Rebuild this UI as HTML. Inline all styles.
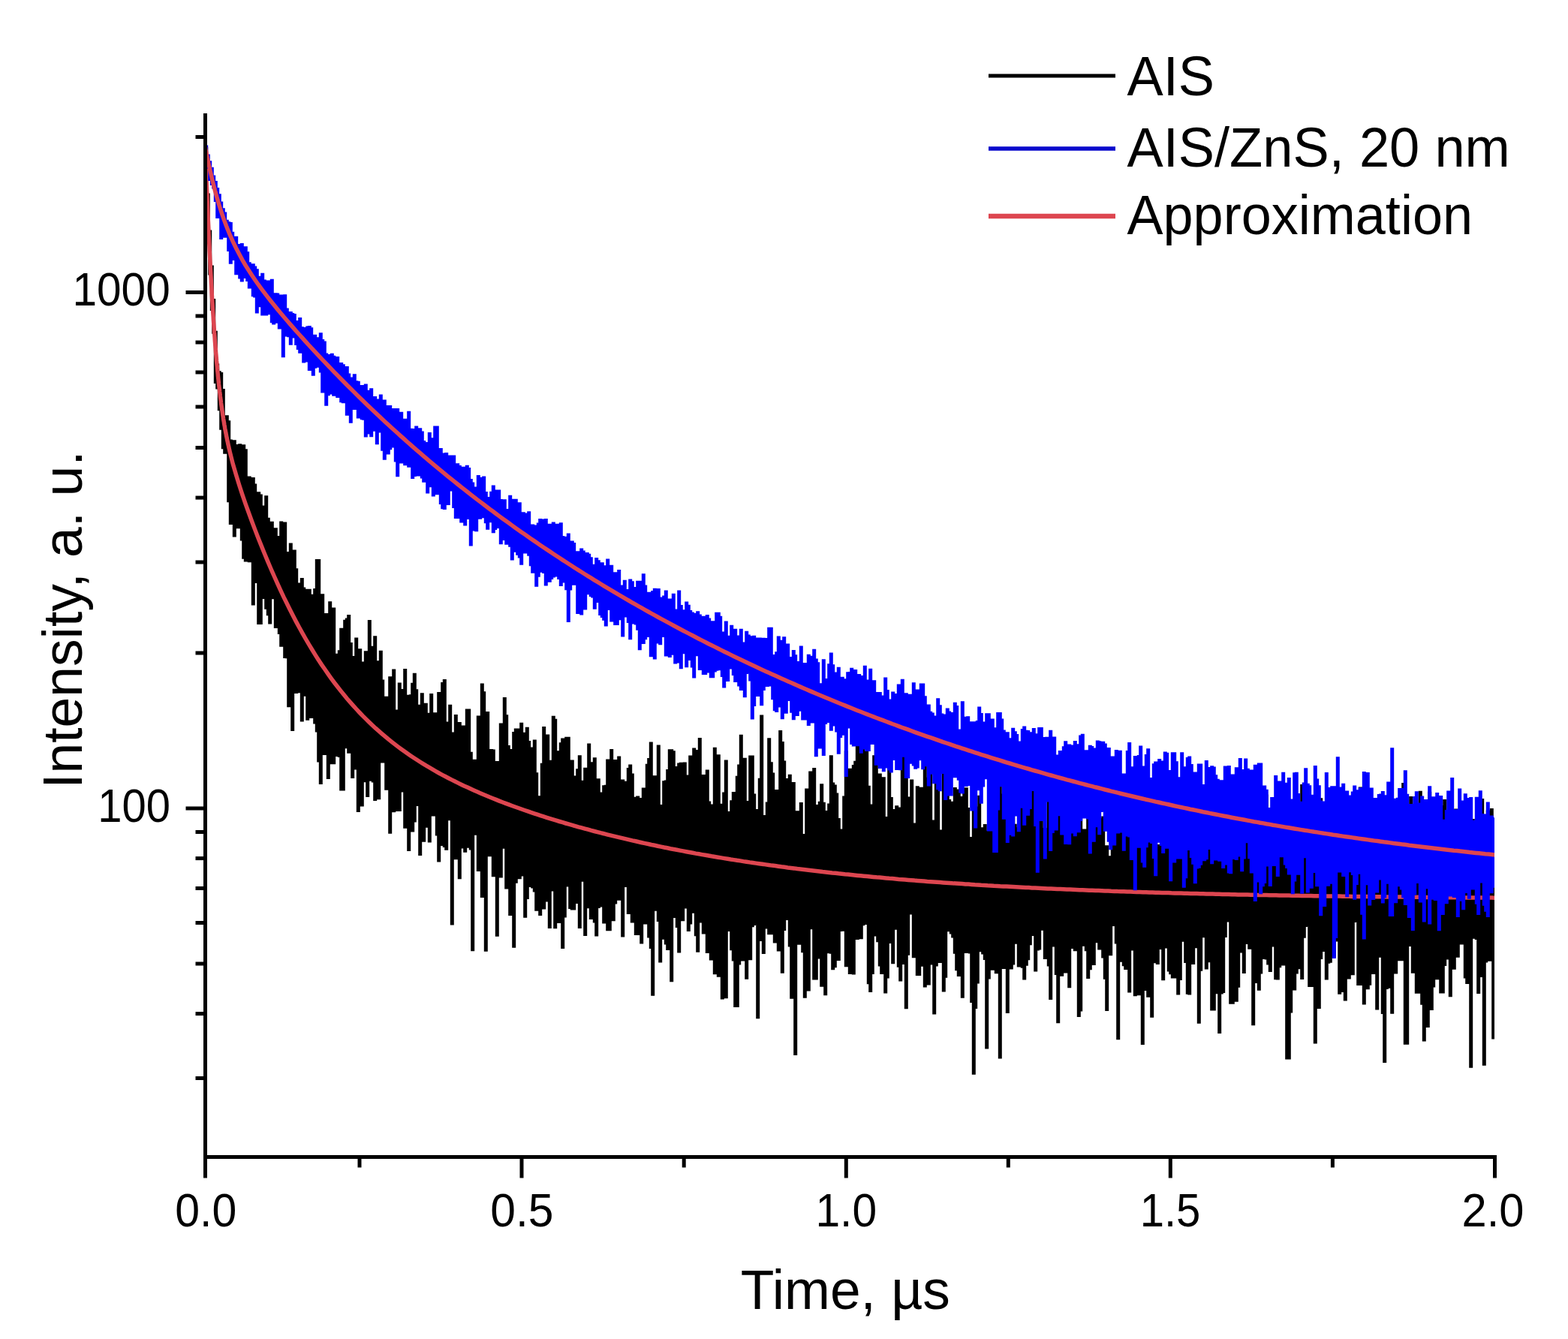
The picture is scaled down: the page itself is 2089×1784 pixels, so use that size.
<!DOCTYPE html>
<html><head><meta charset="utf-8"><title>Intensity decay</title>
<style>
html,body{margin:0;padding:0;background:#fff;}
svg{display:block;}
text{font-family:"Liberation Sans", Arial, sans-serif;fill:#000;}
.tk{stroke:#000;stroke-width:5;}
</style></head><body>
<svg width="2089" height="1784" viewBox="0 0 2089 1784">
<rect width="2089" height="1784" fill="#fff"/>
<defs><clipPath id="pc"><rect x="273.5" y="151" width="1717.5" height="1390"/></clipPath></defs>
<g clip-path="url(#pc)">
<path d="M272.2 196.0H277.2V261.6H272.2ZM274.8 257.6H279.8V316.1H274.8ZM277.2 306.6H282.2V366.5H277.2ZM279.8 353.4H284.8V414.1H279.8ZM282.2 398.1H287.2V444.7H282.2ZM284.8 440.7H289.8V511.0H284.8ZM287.2 484.6H292.2V518.4H287.2ZM289.8 494.2H294.8V547.2H289.8ZM292.2 496.1H297.2V572.7H292.2ZM294.8 517.9H299.8V598.2H294.8ZM297.2 560.2H302.2V604.7H297.2ZM299.8 553.2H304.8V604.5H299.8ZM302.2 560.3H307.2V669.3H302.2ZM304.8 585.6H309.8V699.0H304.8ZM307.2 587.0H312.2V645.4H307.2ZM309.8 586.2H314.8V715.6H309.8ZM312.2 623.3H317.2V688.4H312.2ZM314.8 592.1H319.8V704.3H314.8ZM317.2 591.2H322.2V671.7H317.2ZM319.8 604.3H324.8V720.4H319.8ZM322.2 592.3H327.2V744.8H322.2ZM324.8 598.3H329.8V748.5H324.8ZM327.2 634.6H332.2V731.8H327.2ZM329.8 634.6H334.8V749.3H329.8ZM332.2 643.8H337.2V740.8H332.2ZM334.8 636.1H339.8V806.6H334.8ZM337.2 644.6H342.2V777.1H337.2ZM339.8 665.5H344.8V769.8H339.8ZM342.2 655.2H347.2V832.0H342.2ZM344.8 658.5H349.8V832.0H344.8ZM347.2 712.1H352.2V798.1H347.2ZM349.8 673.4H354.8V781.0H349.8ZM352.2 660.3H357.2V811.8H352.2ZM354.8 689.7H359.8V820.3H354.8ZM357.2 703.6H362.2V831.6H357.2ZM359.8 694.8H364.8V788.7H359.8ZM362.2 708.0H367.2V798.3H362.2ZM364.8 703.2H369.8V837.1H364.8ZM367.2 732.3H372.2V837.1H367.2ZM369.8 714.1H374.8V845.1H369.8ZM372.2 694.4H377.2V861.7H372.2ZM374.8 728.9H379.8V812.8H374.8ZM377.2 695.5H382.2V877.1H377.2ZM379.8 765.3H384.8V877.2H379.8ZM382.2 735.1H387.2V942.2H382.2ZM384.8 723.4H389.8V873.7H384.8ZM387.2 794.4H392.2V973.9H387.2ZM389.8 732.6H394.8V852.6H389.8ZM392.2 757.2H397.2V923.9H392.2ZM394.8 776.5H399.8V923.3H394.8ZM397.2 787.3H402.2V911.2H397.2ZM399.8 769.9H404.8V961.4H399.8ZM402.2 782.4H407.2V927.8H402.2ZM404.8 788.4H409.8V906.3H404.8ZM407.2 784.7H412.2V959.7H407.2ZM409.8 784.7H414.8V936.4H409.8ZM412.2 844.6H417.2V956.9H412.2ZM414.8 791.8H419.8V921.7H414.8ZM417.2 784.1H422.2V964.4H417.2ZM419.8 745.1H424.8V975.4H419.8ZM422.2 745.1H427.2V1015.4H422.2ZM424.8 835.7H429.8V1044.9H424.8ZM427.2 791.2H432.2V931.0H427.2ZM429.8 817.7H434.8V1006.0H429.8ZM432.2 817.0H437.2V1006.0H432.2ZM434.8 850.6H439.8V1037.9H434.8ZM437.2 801.2H442.2V975.0H437.2ZM439.8 836.0H444.8V1018.2H439.8ZM442.2 809.5H447.2V1018.2H442.2ZM444.8 882.4H449.8V1007.9H444.8ZM447.2 870.7H452.2V1001.8H447.2ZM449.8 866.3H454.8V1008.9H449.8ZM452.2 836.7H457.2V1053.4H452.2ZM454.8 838.9H459.8V1053.4H454.8ZM457.2 825.8H462.2V997.3H457.2ZM459.8 823.5H464.8V981.7H459.8ZM462.2 818.9H467.2V1003.8H462.2ZM464.8 855.9H469.8V1001.2H464.8ZM467.2 874.1H472.2V1037.0H467.2ZM469.8 890.3H474.8V1025.4H469.8ZM472.2 849.6H477.2V1025.4H472.2ZM474.8 908.3H479.8V1082.0H474.8ZM477.2 864.2H482.2V1025.5H477.2ZM479.8 920.4H484.8V1074.4H479.8ZM482.2 881.6H487.2V1003.4H482.2ZM484.8 867.2H489.8V1042.3H484.8ZM487.2 891.2H492.2V1061.9H487.2ZM489.8 826.0H494.8V1030.5H489.8ZM492.2 860.7H497.2V1040.8H492.2ZM494.8 891.8H499.8V1042.4H494.8ZM497.2 847.3H502.2V1067.1H497.2ZM499.8 903.9H504.8V1065.3H499.8ZM502.2 880.2H507.2V1065.3H502.2ZM504.8 866.7H509.8V1016.6H504.8ZM507.2 905.4H512.2V1016.6H507.2ZM509.8 936.8H514.8V1011.3H509.8ZM512.2 927.7H517.2V1052.8H512.2ZM514.8 927.7H519.8V1048.1H514.8ZM517.2 901.2H522.2V1110.7H517.2ZM519.8 901.2H524.8V1047.0H519.8ZM522.2 891.5H527.2V1082.2H522.2ZM524.8 946.7H529.8V1081.1H524.8ZM527.2 945.6H532.2V1077.6H527.2ZM529.8 909.5H534.8V1081.0H529.8ZM532.2 933.6H537.2V1055.5H532.2ZM534.8 918.1H539.8V1031.9H534.8ZM537.2 891.1H542.2V1103.8H537.2ZM539.8 925.8H544.8V1087.2H539.8ZM542.2 941.1H547.2V1134.1H542.2ZM544.8 925.3H549.8V1080.0H544.8ZM547.2 909.8H552.2V1108.5H547.2ZM549.8 896.8H554.8V1095.4H549.8ZM552.2 918.2H557.2V1040.2H552.2ZM554.8 938.8H559.8V1074.0H554.8ZM557.2 961.9H562.2V1140.1H557.2ZM559.8 923.3H564.8V1069.9H559.8ZM562.2 936.8H567.2V1121.7H562.2ZM564.8 936.7H569.8V1089.7H564.8ZM567.2 949.7H572.2V1102.7H567.2ZM569.8 976.0H574.8V1122.4H569.8ZM572.2 924.1H577.2V1084.4H572.2ZM574.8 984.0H579.8V1087.5H574.8ZM577.2 949.2H582.2V1083.3H577.2ZM579.8 956.1H584.8V1113.4H579.8ZM582.2 921.9H587.2V1148.5H582.2ZM584.8 1009.6H589.8V1127.0H584.8ZM587.2 909.1H592.2V1119.5H587.2ZM589.8 905.1H594.8V1129.1H589.8ZM592.2 961.6H597.2V1132.8H592.2ZM594.8 1004.1H599.8V1079.6H594.8ZM597.2 938.8H602.2V1093.3H597.2ZM599.8 983.8H604.8V1232.4H599.8ZM602.2 975.5H607.2V1117.6H602.2ZM604.8 952.1H609.8V1145.3H604.8ZM607.2 975.0H612.2V1145.3H607.2ZM609.8 961.9H614.8V1171.3H609.8ZM612.2 1018.4H617.2V1092.0H612.2ZM614.8 966.5H619.8V1130.4H614.8ZM617.2 978.7H622.2V1135.7H617.2ZM619.8 944.5H624.8V1129.8H619.8ZM622.2 944.5H627.2V1094.9H622.2ZM624.8 1001.8H629.8V1132.5H624.8ZM627.2 1011.7H632.2V1267.2H627.2ZM629.8 1019.3H634.8V1112.8H629.8ZM632.2 1011.8H637.2V1109.7H632.2ZM634.8 953.4H639.8V1160.9H634.8ZM637.2 974.2H642.2V1118.5H637.2ZM639.8 910.4H644.8V1196.1H639.8ZM642.2 921.2H647.2V1103.7H642.2ZM644.8 977.1H649.8V1267.7H644.8ZM647.2 948.0H652.2V1141.2H647.2ZM649.8 1013.9H654.8V1141.2H649.8ZM652.2 998.0H657.2V1107.9H652.2ZM654.8 998.6H659.8V1168.2H654.8ZM657.2 1036.9H662.2V1151.4H657.2ZM659.8 1013.9H664.8V1247.8H659.8ZM662.2 1018.5H667.2V1127.0H662.2ZM664.8 963.4H669.8V1169.5H664.8ZM667.2 982.3H672.2V1123.3H667.2ZM669.8 929.1H674.8V1130.8H669.8ZM672.2 952.3H677.2V1184.5H672.2ZM674.8 993.1H679.8V1062.2H674.8ZM677.2 1005.2H682.2V1220.0H677.2ZM679.8 997.9H684.8V1188.2H679.8ZM682.2 975.0H687.2V1262.7H682.2ZM684.8 970.4H689.8V1176.7H684.8ZM687.2 970.4H692.2V1165.9H687.2ZM689.8 986.6H694.8V1171.3H689.8ZM692.2 962.7H697.2V1108.8H692.2ZM694.8 975.8H699.8V1167.5H694.8ZM697.2 1023.5H702.2V1222.7H697.2ZM699.8 968.7H704.8V1197.9H699.8ZM702.2 987.0H707.2V1182.0H702.2ZM704.8 1013.4H709.8V1182.0H704.8ZM707.2 995.4H712.2V1183.4H707.2ZM709.8 985.6H714.8V1188.5H709.8ZM712.2 1029.3H717.2V1213.7H712.2ZM714.8 1060.2H719.8V1185.7H714.8ZM717.2 1062.6H722.2V1220.1H717.2ZM719.8 1016.8H724.8V1211.6H719.8ZM722.2 968.0H727.2V1211.6H722.2ZM724.8 991.4H729.8V1201.4H724.8ZM727.2 978.4H732.2V1126.7H727.2ZM729.8 1012.7H734.8V1237.1H729.8ZM732.2 1014.2H737.2V1129.1H732.2ZM734.8 953.8H739.8V1187.5H734.8ZM737.2 957.8H742.2V1237.3H737.2ZM739.8 1000.8H744.8V1230.1H739.8ZM742.2 1000.2H747.2V1230.1H742.2ZM744.8 989.3H749.8V1205.7H744.8ZM747.2 983.4H752.2V1263.9H747.2ZM749.8 992.1H754.8V1222.6H749.8ZM752.2 981.7H757.2V1125.2H752.2ZM754.8 981.7H759.8V1181.5H754.8ZM757.2 1025.4H762.2V1210.9H757.2ZM759.8 1012.4H764.8V1212.5H759.8ZM762.2 1033.5H767.2V1212.5H762.2ZM764.8 1076.7H769.8V1204.1H764.8ZM767.2 1024.3H772.2V1172.2H767.2ZM769.8 1006.3H774.8V1237.0H769.8ZM772.2 1039.8H777.2V1171.5H772.2ZM774.8 1045.7H779.8V1174.7H774.8ZM777.2 1022.8H782.2V1246.9H777.2ZM779.8 1025.3H784.8V1210.3H779.8ZM782.2 990.6H787.2V1181.3H782.2ZM784.8 1015.2H789.8V1225.1H784.8ZM787.2 1038.9H792.2V1225.1H787.2ZM789.8 1009.2H794.8V1229.6H789.8ZM792.2 1089.8H797.2V1247.6H792.2ZM794.8 1037.3H799.8V1210.1H794.8ZM797.2 1055.4H802.2V1169.4H797.2ZM799.8 1075.8H804.8V1208.5H799.8ZM802.2 1046.2H807.2V1230.6H802.2ZM804.8 1045.7H809.8V1230.6H804.8ZM807.2 1011.6H812.2V1240.3H807.2ZM809.8 1014.1H814.8V1240.3H809.8ZM812.2 997.9H817.2V1145.0H812.2ZM814.8 1019.7H819.8V1227.2H814.8ZM817.2 1011.9H822.2V1204.6H817.2ZM819.8 1011.9H824.8V1186.7H819.8ZM822.2 1007.6H827.2V1199.8H822.2ZM824.8 1046.0H829.8V1173.9H824.8ZM827.2 1038.6H832.2V1248.4H827.2ZM829.8 1040.8H834.8V1182.1H829.8ZM832.2 1046.9H837.2V1178.6H832.2ZM834.8 1023.1H839.8V1218.1H834.8ZM837.2 1018.6H842.2V1218.1H837.2ZM839.8 1030.6H844.8V1229.6H839.8ZM842.2 1086.9H847.2V1203.8H842.2ZM844.8 1061.8H849.8V1245.9H844.8ZM847.2 1060.4H852.2V1245.9H847.2ZM849.8 1066.8H854.8V1223.3H849.8ZM852.2 1062.9H857.2V1257.6H852.2ZM854.8 1049.4H859.8V1227.6H854.8ZM857.2 1064.0H862.2V1231.5H857.2ZM859.8 1017.8H864.8V1231.5H859.8ZM862.2 1010.1H867.2V1249.4H862.2ZM864.8 988.6H869.8V1263.9H864.8ZM867.2 1088.1H872.2V1326.7H867.2ZM869.8 1033.3H874.8V1213.8H869.8ZM872.2 1051.8H877.2V1201.3H872.2ZM874.8 992.6H879.8V1228.1H874.8ZM877.2 1071.9H882.2V1282.4H877.2ZM879.8 1075.1H884.8V1213.3H879.8ZM882.2 1040.2H887.2V1251.7H882.2ZM884.8 1039.4H889.8V1258.4H884.8ZM887.2 1025.0H892.2V1266.1H887.2ZM889.8 998.3H894.8V1224.4H889.8ZM892.2 998.3H897.2V1308.2H892.2ZM894.8 1000.3H899.8V1220.0H894.8ZM897.2 1031.7H902.2V1223.1H897.2ZM899.8 1020.9H904.8V1236.0H899.8ZM902.2 1016.5H907.2V1269.5H902.2ZM904.8 1015.7H909.8V1227.2H904.8ZM907.2 1037.4H912.2V1227.2H907.2ZM909.8 1015.6H914.8V1201.1H909.8ZM912.2 1032.4H917.2V1210.6H912.2ZM914.8 1032.8H919.8V1241.0H914.8ZM917.2 1006.5H922.2V1231.5H917.2ZM919.8 1058.5H924.8V1187.5H919.8ZM922.2 996.4H927.2V1216.8H922.2ZM924.8 1043.1H929.8V1247.2H924.8ZM927.2 998.9H932.2V1268.7H927.2ZM929.8 982.9H934.8V1184.0H929.8ZM932.2 1109.1H937.2V1229.4H932.2ZM934.8 1032.0H939.8V1244.6H934.8ZM937.2 1086.0H942.2V1224.6H937.2ZM939.8 1025.4H944.8V1269.9H939.8ZM942.2 1067.5H947.2V1222.7H942.2ZM944.8 1117.5H949.8V1279.5H944.8ZM947.2 1071.4H952.2V1214.6H947.2ZM949.8 995.8H954.8V1298.2H949.8ZM952.2 1005.2H957.2V1290.0H952.2ZM954.8 1005.2H959.8V1301.7H954.8ZM957.2 1070.8H962.2V1206.9H957.2ZM959.8 1120.7H964.8V1331.6H959.8ZM962.2 1055.6H967.2V1234.2H962.2ZM964.8 1012.5H969.8V1330.3H964.8ZM967.2 1081.1H972.2V1241.0H967.2ZM969.8 1138.8H974.8V1227.6H969.8ZM972.2 1066.2H977.2V1266.2H972.2ZM974.8 1055.0H979.8V1280.5H974.8ZM977.2 1083.3H982.2V1342.0H977.2ZM979.8 1033.8H984.8V1342.0H979.8ZM982.2 1018.6H987.2V1285.4H982.2ZM984.8 978.8H989.8V1223.7H984.8ZM987.2 1022.9H992.2V1280.5H987.2ZM989.8 1009.7H994.8V1224.9H989.8ZM992.2 1067.0H997.2V1304.8H992.2ZM994.8 1078.3H999.8V1269.1H994.8ZM997.2 1006.6H1002.2V1279.2H997.2ZM999.8 1006.6H1004.8V1235.2H999.8ZM1002.2 1057.4H1007.2V1233.1H1002.2ZM1004.8 1099.5H1009.8V1209.5H1004.8ZM1007.2 1078.1H1012.2V1357.2H1007.2ZM1009.8 1036.8H1014.8V1253.9H1009.8ZM1012.2 952.5H1017.2V1248.5H1012.2ZM1014.8 1086.1H1019.8V1271.1H1014.8ZM1017.2 1086.4H1022.2V1236.1H1017.2ZM1019.8 1068.6H1024.8V1237.5H1019.8ZM1022.2 983.2H1027.2V1245.2H1022.2ZM1024.8 1015.3H1029.8V1245.2H1024.8ZM1027.2 1029.5H1032.2V1240.5H1027.2ZM1029.8 1067.7H1034.8V1256.5H1029.8ZM1032.2 1052.1H1037.2V1194.7H1032.2ZM1034.8 1066.5H1039.8V1267.6H1034.8ZM1037.2 973.1H1042.2V1267.6H1037.2ZM1039.8 988.0H1044.8V1296.7H1039.8ZM1042.2 1013.6H1047.2V1240.0H1042.2ZM1044.8 1037.1H1049.8V1181.2H1044.8ZM1047.2 1044.4H1052.2V1226.0H1047.2ZM1049.8 1031.7H1054.8V1261.5H1049.8ZM1052.2 1094.1H1057.2V1330.7H1052.2ZM1054.8 1042.0H1059.8V1314.7H1054.8ZM1057.2 1108.0H1062.2V1406.0H1057.2ZM1059.8 1080.3H1064.8V1250.1H1059.8ZM1062.2 1159.7H1067.2V1258.8H1062.2ZM1064.8 1069.1H1069.8V1208.7H1064.8ZM1067.2 1123.2H1072.2V1269.2H1067.2ZM1069.8 1110.9H1074.8V1329.7H1069.8ZM1072.2 1050.6H1077.2V1181.1H1072.2ZM1074.8 1097.1H1079.8V1320.5H1074.8ZM1077.2 1027.5H1082.2V1221.2H1077.2ZM1079.8 1027.5H1084.8V1238.2H1079.8ZM1082.2 1022.9H1087.2V1305.6H1082.2ZM1084.8 1135.5H1089.8V1305.6H1084.8ZM1087.2 1072.0H1092.2V1168.7H1087.2ZM1089.8 1067.8H1094.8V1277.6H1089.8ZM1092.2 1044.2H1097.2V1314.8H1092.2ZM1094.8 1068.7H1099.8V1314.8H1094.8ZM1097.2 1099.3H1102.2V1326.2H1097.2ZM1099.8 1080.0H1104.8V1270.3H1099.8ZM1102.2 1070.5H1107.2V1230.8H1102.2ZM1104.8 1006.3H1109.8V1270.8H1104.8ZM1107.2 1042.6H1112.2V1292.2H1107.2ZM1109.8 1045.4H1114.8V1289.3H1109.8ZM1112.2 1056.4H1117.2V1177.2H1112.2ZM1114.8 1090.1H1119.8V1279.9H1114.8ZM1117.2 1104.6H1122.2V1241.0H1117.2ZM1119.8 1105.0H1124.8V1228.7H1119.8ZM1122.2 1060.5H1127.2V1240.8H1122.2ZM1124.8 1000.2H1129.8V1288.2H1124.8ZM1127.2 1043.7H1132.2V1224.2H1127.2ZM1129.8 1023.7H1134.8V1298.1H1129.8ZM1132.2 1069.7H1137.2V1275.0H1132.2ZM1134.8 1019.0H1139.8V1298.5H1134.8ZM1137.2 1013.8H1142.2V1242.9H1137.2ZM1139.8 969.2H1144.8V1252.0H1139.8ZM1142.2 964.9H1147.2V1226.8H1142.2ZM1144.8 964.9H1149.8V1251.2H1144.8ZM1147.2 967.7H1152.2V1233.3H1147.2ZM1149.8 1061.6H1154.8V1213.4H1149.8ZM1152.2 1000.4H1157.2V1231.9H1152.2ZM1154.8 1046.7H1159.8V1311.3H1154.8ZM1157.2 1071.6H1162.2V1322.1H1157.2ZM1159.8 1071.7H1164.8V1298.1H1159.8ZM1162.2 1006.3H1167.2V1247.5H1162.2ZM1164.8 977.1H1169.8V1223.3H1164.8ZM1167.2 1040.0H1172.2V1255.2H1167.2ZM1169.8 1030.4H1174.8V1287.4H1169.8ZM1172.2 1061.3H1177.2V1297.9H1172.2ZM1174.8 1035.2H1179.8V1215.2H1174.8ZM1177.2 1088.1H1182.2V1323.5H1177.2ZM1179.8 1097.8H1184.8V1303.4H1179.8ZM1182.2 1017.5H1187.2V1234.7H1182.2ZM1184.8 1061.9H1189.8V1257.1H1184.8ZM1187.2 1143.5H1192.2V1284.3H1187.2ZM1189.8 1077.9H1194.8V1238.8H1189.8ZM1192.2 1073.3H1197.2V1219.9H1192.2ZM1194.8 1075.6H1199.8V1288.8H1194.8ZM1197.2 1100.4H1202.2V1307.5H1197.2ZM1199.8 1007.2H1204.8V1284.9H1199.8ZM1202.2 989.5H1207.2V1228.1H1202.2ZM1204.8 1034.8H1209.8V1344.2H1204.8ZM1207.2 1072.9H1212.2V1272.7H1207.2ZM1209.8 1061.5H1214.8V1193.1H1209.8ZM1212.2 1038.6H1217.2V1218.5H1212.2ZM1214.8 1133.0H1219.8V1276.2H1214.8ZM1217.2 1096.4H1222.2V1243.2H1217.2ZM1219.8 1047.2H1224.8V1300.0H1219.8ZM1222.2 1048.8H1227.2V1300.0H1222.2ZM1224.8 1048.8H1229.8V1243.4H1224.8ZM1227.2 1076.3H1232.2V1287.7H1227.2ZM1229.8 1012.7H1234.8V1315.5H1229.8ZM1232.2 1080.2H1237.2V1282.4H1232.2ZM1234.8 1035.8H1239.8V1312.6H1234.8ZM1237.2 991.4H1242.2V1285.6H1237.2ZM1239.8 1092.5H1244.8V1189.5H1239.8ZM1242.2 1116.3H1247.2V1351.4H1242.2ZM1244.8 977.6H1249.8V1287.4H1244.8ZM1247.2 977.6H1252.2V1260.3H1247.2ZM1249.8 1133.5H1254.8V1283.0H1249.8ZM1252.2 1105.6H1257.2V1245.1H1252.2ZM1254.8 1027.1H1259.8V1321.6H1254.8ZM1257.2 1066.0H1262.2V1302.8H1257.2ZM1259.8 1052.1H1264.8V1241.2H1259.8ZM1262.2 1065.0H1267.2V1238.4H1262.2ZM1264.8 1092.5H1269.8V1244.4H1264.8ZM1267.2 1067.8H1272.2V1249.5H1267.2ZM1269.8 1049.1H1274.8V1270.7H1269.8ZM1272.2 1070.6H1277.2V1293.2H1272.2ZM1274.8 1051.5H1279.8V1301.1H1274.8ZM1277.2 1061.1H1282.2V1234.5H1277.2ZM1279.8 1127.9H1284.8V1329.8H1279.8ZM1282.2 1049.2H1287.2V1227.1H1282.2ZM1284.8 1049.2H1289.8V1269.9H1284.8ZM1287.2 1076.0H1292.2V1255.7H1287.2ZM1289.8 1129.3H1294.8V1270.5H1289.8ZM1292.2 1114.9H1297.2V1336.1H1292.2ZM1294.8 1069.9H1299.8V1431.8H1294.8ZM1297.2 1116.3H1302.2V1343.9H1297.2ZM1299.8 1074.5H1304.8V1310.4H1299.8ZM1302.2 1059.8H1307.2V1233.5H1302.2ZM1304.8 1139.6H1309.8V1268.2H1304.8ZM1307.2 1102.2H1312.2V1271.6H1307.2ZM1309.8 1097.9H1314.8V1279.0H1309.8ZM1312.2 1106.7H1317.2V1397.4H1312.2ZM1314.8 1129.2H1319.8V1304.5H1314.8ZM1317.2 1070.0H1322.2V1208.8H1317.2ZM1319.8 1081.5H1324.8V1292.7H1319.8ZM1322.2 1147.2H1327.2V1233.2H1322.2ZM1324.8 1082.2H1329.8V1297.3H1324.8ZM1327.2 1060.9H1332.2V1292.7H1327.2ZM1329.8 1040.6H1334.8V1410.6H1329.8ZM1332.2 1057.5H1337.2V1254.5H1332.2ZM1334.8 1064.1H1339.8V1291.1H1334.8ZM1337.2 1120.9H1342.2V1279.9H1337.2ZM1339.8 1068.9H1344.8V1350.1H1339.8ZM1342.2 1079.2H1347.2V1289.5H1342.2ZM1344.8 1133.9H1349.8V1291.6H1344.8ZM1347.2 1005.1H1352.2V1285.5H1347.2ZM1349.8 1097.8H1354.8V1257.7H1349.8ZM1352.2 1124.1H1357.2V1250.1H1352.2ZM1354.8 1102.2H1359.8V1288.6H1354.8ZM1357.2 1067.9H1362.2V1250.6H1357.2ZM1359.8 1057.6H1364.8V1289.7H1359.8ZM1362.2 1022.5H1367.2V1305.5H1362.2ZM1364.8 1093.1H1369.8V1286.8H1364.8ZM1367.2 1077.6H1372.2V1279.2H1367.2ZM1369.8 1075.5H1374.8V1259.2H1369.8ZM1372.2 998.5H1377.2V1247.0H1372.2ZM1374.8 1053.7H1379.8V1225.6H1374.8ZM1377.2 1097.1H1382.2V1294.6H1377.2ZM1379.8 1085.8H1384.8V1266.6H1379.8ZM1382.2 1078.7H1387.2V1265.5H1382.2ZM1384.8 1077.4H1389.8V1239.7H1384.8ZM1387.2 1120.2H1392.2V1202.5H1387.2ZM1389.8 1103.1H1394.8V1278.1H1389.8ZM1392.2 1144.9H1397.2V1254.0H1392.2ZM1394.8 1009.9H1399.8V1287.5H1394.8ZM1397.2 1045.3H1402.2V1332.0H1397.2ZM1399.8 1045.3H1404.8V1261.6H1399.8ZM1402.2 1043.1H1407.2V1253.1H1402.2ZM1404.8 1021.1H1409.8V1299.0H1404.8ZM1407.2 1096.5H1412.2V1363.2H1407.2ZM1409.8 1019.8H1414.8V1226.4H1409.8ZM1412.2 1090.2H1417.2V1300.8H1412.2ZM1414.8 1090.2H1419.8V1296.6H1414.8ZM1417.2 1122.2H1422.2V1296.6H1417.2ZM1419.8 1091.0H1424.8V1292.8H1419.8ZM1422.2 1119.0H1427.2V1316.3H1422.2ZM1424.8 1101.2H1429.8V1264.0H1424.8ZM1427.2 1078.0H1432.2V1263.8H1427.2ZM1429.8 1123.1H1434.8V1267.2H1429.8ZM1432.2 1028.5H1437.2V1250.2H1432.2ZM1434.8 1100.7H1439.8V1354.9H1434.8ZM1437.2 1089.7H1442.2V1347.4H1437.2ZM1439.8 1158.8H1444.8V1246.1H1439.8ZM1442.2 1104.5H1447.2V1260.7H1442.2ZM1444.8 1108.3H1449.8V1267.2H1444.8ZM1447.2 1085.0H1452.2V1304.1H1447.2ZM1449.8 1085.0H1454.8V1292.2H1449.8ZM1452.2 1048.6H1457.2V1225.9H1452.2ZM1454.8 1071.5H1459.8V1285.9H1454.8ZM1457.2 1081.1H1462.2V1256.2H1457.2ZM1459.8 1090.0H1464.8V1223.8H1459.8ZM1462.2 1090.0H1467.2V1265.6H1462.2ZM1464.8 1104.7H1469.8V1243.9H1464.8ZM1467.2 1087.6H1472.2V1276.4H1467.2ZM1469.8 1127.3H1474.8V1304.8H1469.8ZM1472.2 1126.2H1477.2V1347.0H1472.2ZM1474.8 1140.2H1479.8V1238.1H1474.8ZM1477.2 1159.0H1482.2V1273.2H1477.2ZM1479.8 1052.2H1484.8V1204.4H1479.8ZM1482.2 1069.7H1487.2V1234.1H1482.2ZM1484.8 1091.8H1489.8V1257.5H1484.8ZM1487.2 1095.2H1492.2V1385.3H1487.2ZM1489.8 1097.3H1494.8V1281.8H1489.8ZM1492.2 1071.0H1497.2V1266.8H1492.2ZM1494.8 1048.5H1499.8V1287.3H1494.8ZM1497.2 1173.0H1502.2V1292.0H1497.2ZM1499.8 1113.4H1504.8V1286.2H1499.8ZM1502.2 1116.6H1507.2V1322.6H1502.2ZM1504.8 1066.8H1509.8V1240.2H1504.8ZM1507.2 1084.6H1512.2V1266.6H1507.2ZM1509.8 1083.2H1514.8V1327.2H1509.8ZM1512.2 1091.5H1517.2V1314.1H1512.2ZM1514.8 1169.1H1519.8V1326.2H1514.8ZM1517.2 1087.7H1522.2V1282.7H1517.2ZM1519.8 1087.7H1524.8V1392.0H1519.8ZM1522.2 1104.4H1527.2V1306.3H1522.2ZM1524.8 1119.8H1529.8V1319.9H1524.8ZM1527.2 1057.1H1532.2V1328.8H1527.2ZM1529.8 1083.6H1534.8V1263.8H1529.8ZM1532.2 1076.6H1537.2V1355.7H1532.2ZM1534.8 1141.1H1539.8V1283.2H1534.8ZM1537.2 1037.6H1542.2V1240.0H1537.2ZM1539.8 1125.0H1544.8V1284.9H1539.8ZM1542.2 1125.0H1547.2V1264.8H1542.2ZM1544.8 1129.3H1549.8V1265.0H1544.8ZM1547.2 1076.1H1552.2V1306.3H1547.2ZM1549.8 1120.5H1554.8V1263.5H1549.8ZM1552.2 1085.3H1557.2V1255.4H1552.2ZM1554.8 1066.4H1559.8V1294.4H1554.8ZM1557.2 1077.1H1562.2V1298.2H1557.2ZM1559.8 1088.0H1564.8V1303.4H1559.8ZM1562.2 1046.4H1567.2V1303.4H1562.2ZM1564.8 1129.1H1569.8V1280.2H1564.8ZM1567.2 1072.3H1572.2V1325.4H1567.2ZM1569.8 1109.9H1574.8V1306.0H1569.8ZM1572.2 1070.7H1577.2V1175.7H1572.2ZM1574.8 1056.9H1579.8V1254.8H1574.8ZM1577.2 1111.4H1582.2V1283.1H1577.2ZM1579.8 1148.1H1584.8V1324.7H1579.8ZM1582.2 1078.6H1587.2V1325.6H1582.2ZM1584.8 1053.1H1589.8V1285.1H1584.8ZM1587.2 1161.2H1592.2V1285.1H1587.2ZM1589.8 1092.6H1594.8V1263.2H1589.8ZM1592.2 1092.6H1597.2V1246.5H1592.2ZM1594.8 1129.3H1599.8V1363.8H1594.8ZM1597.2 1120.9H1602.2V1293.7H1597.2ZM1599.8 1106.9H1604.8V1249.2H1599.8ZM1602.2 1098.6H1607.2V1233.4H1602.2ZM1604.8 1059.0H1609.8V1291.5H1604.8ZM1607.2 1149.2H1612.2V1244.8H1607.2ZM1609.8 1092.4H1614.8V1282.3H1609.8ZM1612.2 1091.8H1617.2V1346.6H1612.2ZM1614.8 1170.1H1619.8V1346.6H1614.8ZM1617.2 1085.9H1622.2V1324.3H1617.2ZM1619.8 1085.9H1624.8V1299.1H1619.8ZM1622.2 1049.5H1627.2V1377.1H1622.2ZM1624.8 1049.5H1629.8V1324.5H1624.8ZM1627.2 1115.2H1632.2V1322.9H1627.2ZM1629.8 1074.2H1634.8V1248.9H1629.8ZM1632.2 1108.9H1637.2V1221.3H1632.2ZM1634.8 1108.9H1639.8V1228.4H1634.8ZM1637.2 1087.9H1642.2V1337.8H1637.2ZM1639.8 1106.5H1644.8V1337.8H1639.8ZM1642.2 1086.1H1647.2V1241.3H1642.2ZM1644.8 1081.2H1649.8V1334.8H1644.8ZM1647.2 1126.3H1652.2V1315.8H1647.2ZM1649.8 1065.7H1654.8V1256.9H1649.8ZM1652.2 1107.9H1657.2V1269.6H1652.2ZM1654.8 1113.2H1659.8V1297.0H1654.8ZM1657.2 1100.4H1662.2V1230.5H1657.2ZM1659.8 1093.0H1664.8V1258.0H1659.8ZM1662.2 1054.5H1667.2V1264.7H1662.2ZM1664.8 1099.7H1669.8V1235.6H1664.8ZM1667.2 1083.0H1672.2V1366.3H1667.2ZM1669.8 1139.1H1674.8V1289.3H1669.8ZM1672.2 1170.0H1677.2V1310.0H1672.2ZM1674.8 1068.6H1679.8V1319.7H1674.8ZM1677.2 1119.5H1682.2V1297.6H1677.2ZM1679.8 1114.3H1684.8V1278.0H1679.8ZM1682.2 1132.4H1687.2V1278.0H1682.2ZM1684.8 1058.5H1689.8V1278.5H1684.8ZM1687.2 1080.8H1692.2V1285.5H1687.2ZM1689.8 1119.9H1694.8V1294.9H1689.8ZM1692.2 1087.0H1697.2V1261.6H1692.2ZM1694.8 1097.2H1699.8V1251.9H1694.8ZM1697.2 1155.8H1702.2V1305.3H1697.2ZM1699.8 1074.4H1704.8V1305.4H1699.8ZM1702.2 1069.4H1707.2V1289.3H1702.2ZM1704.8 1135.0H1709.8V1271.0H1704.8ZM1707.2 1094.5H1712.2V1286.6H1707.2ZM1709.8 1149.5H1714.8V1281.9H1709.8ZM1712.2 1109.1H1717.2V1411.6H1712.2ZM1714.8 1119.2H1719.8V1411.6H1714.8ZM1717.2 1127.5H1722.2V1349.4H1717.2ZM1719.8 1106.8H1724.8V1288.6H1719.8ZM1722.2 1068.3H1727.2V1319.4H1722.2ZM1724.8 1067.7H1729.8V1297.5H1724.8ZM1727.2 1112.5H1732.2V1252.3H1727.2ZM1729.8 1095.7H1734.8V1291.3H1729.8ZM1732.2 1045.1H1737.2V1304.9H1732.2ZM1734.8 1111.9H1739.8V1249.8H1734.8ZM1737.2 1060.1H1742.2V1235.0H1737.2ZM1739.8 1128.9H1744.8V1217.9H1739.8ZM1742.2 1138.7H1747.2V1314.9H1742.2ZM1744.8 1126.8H1749.8V1314.9H1744.8ZM1747.2 1126.8H1752.2V1252.4H1747.2ZM1749.8 1108.5H1754.8V1390.5H1749.8ZM1752.2 1089.4H1757.2V1271.2H1752.2ZM1754.8 1107.8H1759.8V1343.9H1754.8ZM1757.2 1063.2H1762.2V1277.9H1757.2ZM1759.8 1105.5H1764.8V1249.5H1759.8ZM1762.2 1088.0H1767.2V1268.0H1762.2ZM1764.8 1154.7H1769.8V1305.5H1764.8ZM1767.2 1103.7H1772.2V1283.7H1767.2ZM1769.8 1075.3H1774.8V1282.8H1769.8ZM1772.2 1096.8H1777.2V1276.3H1772.2ZM1774.8 1089.9H1779.8V1275.4H1774.8ZM1777.2 1107.6H1782.2V1254.6H1777.2ZM1779.8 1140.3H1784.8V1251.6H1779.8ZM1782.2 1144.8H1787.2V1324.7H1782.2ZM1784.8 1126.2H1789.8V1248.5H1784.8ZM1787.2 1126.2H1792.2V1322.1H1787.2ZM1789.8 1071.7H1794.8V1333.6H1789.8ZM1792.2 1071.7H1797.2V1261.9H1792.2ZM1794.8 1093.4H1799.8V1304.4H1794.8ZM1797.2 1126.1H1802.2V1264.3H1797.2ZM1799.8 1066.7H1804.8V1299.2H1799.8ZM1802.2 1096.0H1807.2V1228.9H1802.2ZM1804.8 1066.1H1809.8V1225.7H1804.8ZM1807.2 1138.2H1812.2V1313.1H1807.2ZM1809.8 1048.6H1814.8V1313.1H1809.8ZM1812.2 1048.6H1817.2V1261.6H1812.2ZM1814.8 1143.2H1819.8V1338.5H1814.8ZM1817.2 1175.1H1822.2V1318.2H1817.2ZM1819.8 1122.1H1824.8V1318.2H1819.8ZM1822.2 1104.4H1827.2V1312.7H1822.2ZM1824.8 1122.6H1829.8V1298.0H1824.8ZM1827.2 1153.0H1832.2V1298.0H1827.2ZM1829.8 1154.6H1834.8V1282.4H1829.8ZM1832.2 1066.1H1837.2V1345.5H1832.2ZM1834.8 1085.0H1839.8V1275.8H1834.8ZM1837.2 1059.2H1842.2V1275.8H1837.2ZM1839.8 1102.0H1844.8V1351.0H1839.8ZM1842.2 1080.6H1847.2V1416.1H1842.2ZM1844.8 1098.9H1849.8V1318.1H1844.8ZM1847.2 1089.5H1852.2V1301.2H1847.2ZM1849.8 1104.5H1854.8V1316.7H1849.8ZM1852.2 1120.4H1857.2V1350.8H1852.2ZM1854.8 1100.3H1859.8V1256.3H1854.8ZM1857.2 1118.4H1862.2V1297.5H1857.2ZM1859.8 1090.8H1864.8V1266.6H1859.8ZM1862.2 1158.5H1867.2V1280.2H1862.2ZM1864.8 1072.7H1869.8V1280.2H1864.8ZM1867.2 1043.1H1872.2V1277.9H1867.2ZM1869.8 1132.8H1874.8V1391.8H1869.8ZM1872.2 1104.5H1877.2V1391.8H1872.2ZM1874.8 1095.7H1879.8V1260.9H1874.8ZM1877.2 1061.0H1882.2V1251.9H1877.2ZM1879.8 1137.0H1884.8V1296.7H1879.8ZM1882.2 1084.8H1887.2V1232.5H1882.2ZM1884.8 1145.2H1889.8V1323.7H1884.8ZM1887.2 1101.4H1892.2V1323.7H1887.2ZM1889.8 1053.8H1894.8V1280.0H1889.8ZM1892.2 1097.6H1897.2V1338.8H1892.2ZM1894.8 1179.1H1899.8V1387.4H1894.8ZM1897.2 1144.5H1902.2V1306.4H1897.2ZM1899.8 1133.2H1904.8V1368.9H1899.8ZM1902.2 1054.8H1907.2V1264.2H1902.2ZM1904.8 1153.1H1909.8V1346.0H1904.8ZM1907.2 1096.6H1912.2V1315.6H1907.2ZM1909.8 1118.0H1914.8V1305.2H1909.8ZM1912.2 1127.3H1917.2V1305.2H1912.2ZM1914.8 1139.4H1919.8V1278.1H1914.8ZM1917.2 1073.1H1922.2V1323.5H1917.2ZM1919.8 1123.7H1924.8V1323.5H1919.8ZM1922.2 1065.0H1927.2V1286.9H1922.2ZM1924.8 1115.9H1929.8V1278.4H1924.8ZM1927.2 1129.3H1932.2V1275.7H1927.2ZM1929.8 1091.5H1934.8V1328.2H1929.8ZM1932.2 1091.5H1937.2V1289.7H1932.2ZM1934.8 1095.9H1939.8V1291.7H1934.8ZM1937.2 1077.4H1942.2V1265.9H1937.2ZM1939.8 1121.0H1944.8V1275.8H1939.8ZM1942.2 1139.5H1947.2V1255.7H1942.2ZM1944.8 1143.2H1949.8V1258.4H1944.8ZM1947.2 1095.0H1952.2V1258.4H1947.2ZM1949.8 1093.8H1954.8V1303.6H1949.8ZM1952.2 1145.4H1957.2V1310.9H1952.2ZM1954.8 1127.9H1959.8V1295.1H1954.8ZM1957.2 1101.9H1962.2V1422.7H1957.2ZM1959.8 1090.9H1964.8V1250.7H1959.8ZM1962.2 1105.0H1967.2V1247.3H1962.2ZM1964.8 1151.2H1969.8V1251.9H1964.8ZM1967.2 1102.5H1972.2V1323.9H1967.2ZM1969.8 1102.5H1974.8V1269.8H1969.8ZM1972.2 1064.0H1977.2V1302.1H1972.2ZM1974.8 1107.4H1979.8V1419.8H1974.8ZM1977.2 1093.1H1982.2V1282.5H1977.2ZM1979.8 1079.5H1984.8V1273.6H1979.8ZM1982.2 1095.6H1987.2V1280.7H1982.2ZM1984.8 1076.9H1989.8V1267.3H1984.8ZM1987.2 1130.0H1992.2V1384.4H1987.2ZM1989.8 1132.6H1994.8V1303.6H1989.8Z" fill="#000"/>
<path d="M273.5 198.7 L273.8 206.0 L274.0 213.2 L274.3 220.3 L274.6 227.3 L274.9 234.3 L275.1 241.2 L275.4 248.0 L275.7 254.7 L276.0 261.3 L276.2 267.9 L276.5 274.3 L276.8 280.7 L277.1 287.1 L277.3 293.3 L277.6 299.4 L277.9 305.5 L278.1 311.5 L278.4 317.4 L278.7 323.2 L279.0 328.9 L279.2 334.6 L279.5 340.1 L279.8 345.6 L280.1 351.0 L280.3 356.3 L280.6 361.6 L280.9 366.7 L281.2 371.8 L281.4 376.8 L281.7 381.7 L282.0 386.5 L282.2 391.3 L282.5 396.0 L282.8 400.6 L283.1 405.1 L283.3 409.5 L283.6 413.9 L283.9 418.2 L284.2 422.4 L284.4 426.6 L284.7 430.6 L285.0 434.6 L285.3 438.6 L285.5 442.4 L285.8 446.2 L286.1 449.9 L286.3 453.6 L286.6 457.2 L286.9 460.7 L287.2 464.1 L287.4 467.5 L287.7 470.9 L288.0 474.1 L288.3 477.3 L288.5 480.5 L288.8 483.6 L289.1 486.6 L289.4 489.6 L289.6 492.5 L289.9 495.4 L290.2 498.2 L290.4 500.9 L290.7 503.6 L291.0 506.3 L291.3 508.9 L291.5 511.5 L291.8 514.0 L292.1 516.5 L292.4 518.9 L292.6 521.3 L292.9 523.6 L293.2 525.9 L293.4 528.1 L293.7 530.4 L294.0 532.5 L294.3 534.7 L294.5 536.8 L294.8 538.8 L295.1 540.9 L295.4 542.8 L295.6 544.8 L295.9 546.7 L296.2 548.6 L296.5 550.5 L296.7 552.3 L297.0 554.1 L297.3 555.9 L297.5 557.6 L297.8 559.4 L298.1 561.0 L298.4 562.7 L298.6 564.3 L298.9 566.0 L299.2 567.5 L299.5 569.1 L299.7 570.7 L300.0 572.2 L300.3 573.7 L300.6 575.2 L300.8 576.6 L301.1 578.0 L301.4 579.5 L301.6 580.9 L301.9 582.2 L302.2 583.6 L302.5 585.0 L302.7 586.3 L303.0 587.6 L303.3 588.9 L303.6 590.2 L303.8 591.4 L304.1 592.7 L304.4 593.9 L304.7 595.2 L304.9 596.4 L305.2 597.6 L305.5 598.8 L305.7 599.9 L306.0 601.1 L310.2 617.8 L314.5 632.6 L318.7 646.3 L322.9 659.1 L327.1 671.4 L331.4 683.2 L335.6 694.7 L339.8 705.9 L344.0 716.8 L348.3 727.4 L352.5 737.8 L356.7 747.9 L360.9 757.8 L365.2 767.5 L369.4 776.9 L373.6 786.1 L377.8 795.1 L382.1 803.8 L386.3 812.3 L390.5 820.6 L394.7 828.6 L399.0 836.5 L403.2 844.1 L407.4 851.5 L411.6 858.7 L415.9 865.7 L420.1 872.6 L424.3 879.2 L428.5 885.6 L432.8 891.8 L437.0 897.9 L441.2 903.8 L445.4 909.5 L449.7 915.0 L453.9 920.4 L458.1 925.6 L462.3 930.7 L466.6 935.6 L470.8 940.4 L475.0 945.0 L479.2 949.5 L483.4 953.9 L487.7 958.1 L491.9 962.2 L496.1 966.3 L500.3 970.2 L504.6 973.9 L508.8 977.6 L513.0 981.2 L517.2 984.7 L521.5 988.1 L525.7 991.4 L529.9 994.6 L534.1 997.7 L538.4 1000.8 L542.6 1003.8 L546.8 1006.7 L551.0 1009.5 L555.3 1012.3 L559.5 1015.0 L563.7 1017.6 L567.9 1020.2 L572.2 1022.7 L576.4 1025.2 L580.6 1027.6 L584.8 1030.0 L589.1 1032.3 L593.3 1034.5 L597.5 1036.7 L601.7 1038.9 L606.0 1041.0 L610.2 1043.1 L614.4 1045.2 L618.6 1047.2 L622.9 1049.1 L627.1 1051.1 L631.3 1053.0 L635.5 1054.8 L639.8 1056.7 L644.0 1058.5 L648.2 1060.2 L652.4 1062.0 L656.7 1063.7 L660.9 1065.4 L665.1 1067.1 L669.3 1068.7 L673.6 1070.3 L677.8 1071.9 L682.0 1073.5 L686.2 1075.0 L690.5 1076.5 L694.7 1078.0 L698.9 1079.5 L703.1 1080.9 L707.3 1082.4 L711.6 1083.8 L715.8 1085.2 L720.0 1086.6 L724.2 1087.9 L728.5 1089.3 L732.7 1090.6 L736.9 1091.9 L741.1 1093.2 L745.4 1094.5 L749.6 1095.7 L753.8 1097.0 L758.0 1098.2 L762.3 1099.4 L766.5 1100.6 L770.7 1101.8 L774.9 1102.9 L779.2 1104.1 L783.4 1105.2 L787.6 1106.4 L791.8 1107.5 L796.1 1108.6 L800.3 1109.7 L804.5 1110.7 L808.7 1111.8 L813.0 1112.9 L817.2 1113.9 L821.4 1114.9 L825.6 1115.9 L829.9 1116.9 L834.1 1117.9 L838.3 1118.9 L842.5 1119.9 L846.8 1120.8 L851.0 1121.8 L855.2 1122.7 L859.4 1123.6 L863.7 1124.5 L867.9 1125.5 L872.1 1126.3 L876.3 1127.2 L880.6 1128.1 L884.8 1129.0 L889.0 1129.8 L893.2 1130.7 L897.5 1131.5 L901.7 1132.3 L905.9 1133.1 L910.1 1133.9 L914.3 1134.7 L918.6 1135.5 L922.8 1136.3 L927.0 1137.1 L931.2 1137.8 L935.5 1138.6 L939.7 1139.3 L943.9 1140.0 L948.1 1140.8 L952.4 1141.5 L956.6 1142.2 L960.8 1142.9 L965.0 1143.6 L969.3 1144.3 L973.5 1145.0 L977.7 1145.6 L981.9 1146.3 L986.2 1146.9 L990.4 1147.6 L994.6 1148.2 L998.8 1148.9 L1003.1 1149.5 L1007.3 1150.1 L1011.5 1150.7 L1015.7 1151.3 L1020.0 1151.9 L1024.2 1152.5 L1028.4 1153.1 L1032.6 1153.6 L1036.9 1154.2 L1041.1 1154.8 L1045.3 1155.3 L1049.5 1155.9 L1053.8 1156.4 L1058.0 1156.9 L1062.2 1157.5 L1066.4 1158.0 L1070.7 1158.5 L1074.9 1159.0 L1079.1 1159.5 L1083.3 1160.0 L1087.6 1160.5 L1091.8 1161.0 L1096.0 1161.5 L1100.2 1161.9 L1104.5 1162.4 L1108.7 1162.9 L1112.9 1163.3 L1117.1 1163.8 L1121.4 1164.2 L1125.6 1164.7 L1129.8 1165.1 L1134.0 1165.5 L1138.2 1165.9 L1142.5 1166.4 L1146.7 1166.8 L1150.9 1167.2 L1155.1 1167.6 L1159.4 1168.0 L1163.6 1168.4 L1167.8 1168.8 L1172.0 1169.1 L1176.3 1169.5 L1180.5 1169.9 L1184.7 1170.3 L1188.9 1170.6 L1193.2 1171.0 L1197.4 1171.4 L1201.6 1171.7 L1205.8 1172.0 L1210.1 1172.4 L1214.3 1172.7 L1218.5 1173.1 L1222.7 1173.4 L1227.0 1173.7 L1231.2 1174.0 L1235.4 1174.4 L1239.6 1174.7 L1243.9 1175.0 L1248.1 1175.3 L1252.3 1175.6 L1256.5 1175.9 L1260.8 1176.2 L1265.0 1176.5 L1269.2 1176.8 L1273.4 1177.0 L1277.7 1177.3 L1281.9 1177.6 L1286.1 1177.9 L1290.3 1178.1 L1294.6 1178.4 L1298.8 1178.7 L1303.0 1178.9 L1307.2 1179.2 L1311.5 1179.4 L1315.7 1179.7 L1319.9 1179.9 L1324.1 1180.2 L1328.4 1180.4 L1332.6 1180.7 L1336.8 1180.9 L1341.0 1181.1 L1345.2 1181.3 L1349.5 1181.6 L1353.7 1181.8 L1357.9 1182.0 L1362.1 1182.2 L1366.4 1182.4 L1370.6 1182.6 L1374.8 1182.9 L1379.0 1183.1 L1383.3 1183.3 L1387.5 1183.5 L1391.7 1183.7 L1395.9 1183.9 L1400.2 1184.0 L1404.4 1184.2 L1408.6 1184.4 L1412.8 1184.6 L1417.1 1184.8 L1421.3 1185.0 L1425.5 1185.1 L1429.7 1185.3 L1434.0 1185.5 L1438.2 1185.7 L1442.4 1185.8 L1446.6 1186.0 L1450.9 1186.2 L1455.1 1186.3 L1459.3 1186.5 L1463.5 1186.6 L1467.8 1186.8 L1472.0 1187.0 L1476.2 1187.1 L1480.4 1187.3 L1484.7 1187.4 L1488.9 1187.6 L1493.1 1187.7 L1497.3 1187.8 L1501.6 1188.0 L1505.8 1188.1 L1510.0 1188.3 L1514.2 1188.4 L1518.5 1188.5 L1522.7 1188.7 L1526.9 1188.8 L1531.1 1188.9 L1535.4 1189.0 L1539.6 1189.2 L1543.8 1189.3 L1548.0 1189.4 L1552.3 1189.5 L1556.5 1189.6 L1560.7 1189.8 L1564.9 1189.9 L1569.1 1190.0 L1573.4 1190.1 L1577.6 1190.2 L1581.8 1190.3 L1586.0 1190.4 L1590.3 1190.5 L1594.5 1190.6 L1598.7 1190.7 L1602.9 1190.8 L1607.2 1190.9 L1611.4 1191.0 L1615.6 1191.1 L1619.8 1191.2 L1624.1 1191.3 L1628.3 1191.4 L1632.5 1191.5 L1636.7 1191.6 L1641.0 1191.7 L1645.2 1191.8 L1649.4 1191.9 L1653.6 1192.0 L1657.9 1192.0 L1662.1 1192.1 L1666.3 1192.2 L1670.5 1192.3 L1674.8 1192.4 L1679.0 1192.5 L1683.2 1192.5 L1687.4 1192.6 L1691.7 1192.7 L1695.9 1192.8 L1700.1 1192.8 L1704.3 1192.9 L1708.6 1193.0 L1712.8 1193.1 L1717.0 1193.1 L1721.2 1193.2 L1725.5 1193.3 L1729.7 1193.3 L1733.9 1193.4 L1738.1 1193.5 L1742.4 1193.5 L1746.6 1193.6 L1750.8 1193.7 L1755.0 1193.7 L1759.3 1193.8 L1763.5 1193.8 L1767.7 1193.9 L1771.9 1194.0 L1776.1 1194.0 L1780.4 1194.1 L1784.6 1194.1 L1788.8 1194.2 L1793.0 1194.3 L1797.3 1194.3 L1801.5 1194.4 L1805.7 1194.4 L1809.9 1194.5 L1814.2 1194.5 L1818.4 1194.6 L1822.6 1194.6 L1826.8 1194.7 L1831.1 1194.7 L1835.3 1194.8 L1839.5 1194.8 L1843.7 1194.9 L1848.0 1194.9 L1852.2 1195.0 L1856.4 1195.0 L1860.6 1195.0 L1864.9 1195.1 L1869.1 1195.1 L1873.3 1195.2 L1877.5 1195.2 L1881.8 1195.3 L1886.0 1195.3 L1890.2 1195.3 L1894.4 1195.4 L1898.7 1195.4 L1902.9 1195.5 L1907.1 1195.5 L1911.3 1195.5 L1915.6 1195.6 L1919.8 1195.6 L1924.0 1195.6 L1928.2 1195.7 L1932.5 1195.7 L1936.7 1195.8 L1940.9 1195.8 L1945.1 1195.8 L1949.4 1195.9 L1953.6 1195.9 L1957.8 1195.9 L1962.0 1196.0 L1966.3 1196.0 L1970.5 1196.0 L1974.7 1196.0 L1978.9 1196.1 L1983.2 1196.1 L1987.4 1196.1 L1991.6 1196.2" fill="none" stroke="#DD4650" stroke-width="5.5"/>
<path d="M272.2 193.5H277.2V209.6H272.2ZM274.8 205.6H279.8V224.9H274.8ZM277.2 214.3H282.2V241.1H277.2ZM279.8 222.8H284.8V246.9H279.8ZM282.2 233.6H287.2V251.5H282.2ZM284.8 241.0H289.8V269.1H284.8ZM287.2 250.0H292.2V291.0H287.2ZM289.8 258.2H294.8V288.3H289.8ZM292.2 268.5H297.2V319.0H292.2ZM294.8 277.2H299.8V299.6H294.8ZM297.2 282.6H302.2V316.7H297.2ZM299.8 292.7H304.8V311.9H299.8ZM302.2 295.2H307.2V335.1H302.2ZM304.8 296.0H309.8V351.8H304.8ZM307.2 308.8H312.2V345.3H307.2ZM309.8 318.9H314.8V347.1H309.8ZM312.2 314.7H317.2V366.3H312.2ZM314.8 327.6H319.8V347.0H314.8ZM317.2 325.1H322.2V371.5H317.2ZM319.8 324.0H324.8V375.5H319.8ZM322.2 328.8H327.2V367.8H322.2ZM324.8 328.2H329.8V371.0H324.8ZM327.2 335.2H332.2V374.9H327.2ZM329.8 349.3H334.8V384.4H329.8ZM332.2 352.5H337.2V379.1H332.2ZM334.8 351.3H339.8V395.3H334.8ZM337.2 354.6H342.2V396.4H337.2ZM339.8 358.3H344.8V417.4H339.8ZM342.2 368.4H347.2V409.1H342.2ZM344.8 367.7H349.8V409.2H344.8ZM347.2 363.7H352.2V420.6H347.2ZM349.8 372.4H354.8V403.9H349.8ZM352.2 375.4H357.2V420.6H352.2ZM354.8 373.4H359.8V405.5H354.8ZM357.2 383.5H362.2V419.3H357.2ZM359.8 371.7H364.8V430.2H359.8ZM362.2 390.3H367.2V432.4H362.2ZM364.8 390.3H369.8V428.0H364.8ZM367.2 390.5H372.2V430.7H367.2ZM369.8 394.8H374.8V438.5H369.8ZM372.2 392.4H377.2V438.5H372.2ZM374.8 403.8H379.8V476.2H374.8ZM377.2 392.2H382.2V448.5H377.2ZM379.8 410.5H384.8V446.4H379.8ZM382.2 422.4H387.2V449.2H382.2ZM384.8 414.9H389.8V459.7H384.8ZM387.2 417.0H392.2V446.3H387.2ZM389.8 418.1H394.8V450.5H389.8ZM392.2 429.5H397.2V460.1H392.2ZM394.8 427.0H399.8V466.0H394.8ZM397.2 422.9H402.2V470.8H397.2ZM399.8 435.2H404.8V470.8H399.8ZM402.2 436.5H407.2V483.6H402.2ZM404.8 435.9H409.8V474.4H404.8ZM407.2 434.6H412.2V482.4H407.2ZM409.8 434.0H414.8V494.0H409.8ZM412.2 436.2H417.2V484.5H412.2ZM414.8 449.2H419.8V500.8H414.8ZM417.2 445.8H422.2V490.8H417.2ZM419.8 459.6H424.8V484.2H419.8ZM422.2 449.3H427.2V489.7H422.2ZM424.8 443.3H429.8V496.4H424.8ZM427.2 452.0H432.2V523.5H427.2ZM429.8 454.5H434.8V499.2H429.8ZM432.2 470.5H437.2V540.7H432.2ZM434.8 472.0H439.8V527.2H434.8ZM437.2 482.9H442.2V525.4H437.2ZM439.8 470.7H444.8V522.9H439.8ZM442.2 473.7H447.2V527.7H442.2ZM444.8 474.9H449.8V517.4H444.8ZM447.2 474.9H452.2V529.9H447.2ZM449.8 483.1H454.8V529.9H449.8ZM452.2 483.1H457.2V536.3H452.2ZM454.8 485.3H459.8V537.3H454.8ZM457.2 490.7H462.2V531.6H457.2ZM459.8 488.0H464.8V553.8H459.8ZM462.2 497.4H467.2V553.8H462.2ZM464.8 503.6H469.8V563.8H464.8ZM467.2 502.4H472.2V546.0H467.2ZM469.8 498.3H474.8V546.0H469.8ZM472.2 507.3H477.2V542.7H472.2ZM474.8 507.7H479.8V557.6H474.8ZM477.2 516.1H482.2V555.4H477.2ZM479.8 513.1H484.8V559.3H479.8ZM482.2 517.8H487.2V559.8H482.2ZM484.8 511.6H489.8V582.4H484.8ZM487.2 519.7H492.2V578.6H487.2ZM489.8 524.1H494.8V575.5H489.8ZM492.2 517.3H497.2V582.3H492.2ZM494.8 543.4H499.8V574.8H494.8ZM497.2 528.1H502.2V574.7H497.2ZM499.8 531.4H504.8V592.3H499.8ZM502.2 531.8H507.2V576.5H502.2ZM504.8 525.6H509.8V570.7H504.8ZM507.2 532.5H512.2V600.7H507.2ZM509.8 532.5H514.8V612.7H509.8ZM512.2 550.7H517.2V601.5H512.2ZM514.8 540.0H519.8V605.6H514.8ZM517.2 540.0H522.2V599.2H517.2ZM519.8 558.9H524.8V596.6H519.8ZM522.2 544.1H527.2V580.0H522.2ZM524.8 545.4H529.8V615.6H524.8ZM527.2 544.0H532.2V635.2H527.2ZM529.8 556.2H534.8V609.0H529.8ZM532.2 548.8H537.2V617.4H532.2ZM534.8 569.2H539.8V600.9H534.8ZM537.2 557.8H542.2V620.2H537.2ZM539.8 565.7H544.8V614.0H539.8ZM542.2 547.8H547.2V622.8H542.2ZM544.8 570.8H549.8V612.4H544.8ZM547.2 578.9H552.2V638.0H547.2ZM549.8 570.9H554.8V635.0H549.8ZM552.2 567.4H557.2V617.2H552.2ZM554.8 596.3H559.8V634.4H554.8ZM557.2 570.3H562.2V629.4H557.2ZM559.8 574.4H564.8V637.4H559.8ZM562.2 587.0H567.2V642.8H562.2ZM564.8 589.1H569.8V632.0H564.8ZM567.2 593.1H572.2V657.4H567.2ZM569.8 576.1H574.8V649.2H569.8ZM572.2 587.5H577.2V649.2H572.2ZM574.8 583.2H579.8V661.5H574.8ZM577.2 567.4H582.2V642.6H577.2ZM579.8 567.4H584.8V659.3H579.8ZM582.2 616.0H587.2V655.0H582.2ZM584.8 596.9H589.8V671.9H584.8ZM587.2 603.6H592.2V678.2H587.2ZM589.8 608.3H594.8V678.9H589.8ZM592.2 602.9H597.2V672.9H592.2ZM594.8 622.6H599.8V672.9H594.8ZM597.2 606.5H602.2V645.1H597.2ZM599.8 606.4H604.8V654.6H599.8ZM602.2 606.4H607.2V677.1H602.2ZM604.8 629.3H609.8V690.9H604.8ZM607.2 617.2H612.2V690.9H607.2ZM609.8 619.9H614.8V682.5H609.8ZM612.2 630.1H617.2V696.5H612.2ZM614.8 621.7H619.8V695.8H614.8ZM617.2 630.0H622.2V700.5H617.2ZM619.8 619.7H624.8V692.0H619.8ZM622.2 623.1H627.2V688.1H622.2ZM624.8 637.9H629.8V727.5H624.8ZM627.2 642.4H632.2V707.5H627.2ZM629.8 648.4H634.8V700.6H629.8ZM632.2 650.4H637.2V708.3H632.2ZM634.8 633.0H639.8V672.6H634.8ZM637.2 649.3H642.2V691.7H637.2ZM639.8 635.8H644.8V685.6H639.8ZM642.2 634.6H647.2V690.3H642.2ZM644.8 655.1H649.8V697.3H644.8ZM647.2 663.8H652.2V705.7H647.2ZM649.8 662.1H654.8V696.3H649.8ZM652.2 654.7H657.2V695.7H652.2ZM654.8 646.6H659.8V710.2H654.8ZM657.2 652.5H662.2V706.1H657.2ZM659.8 658.9H664.8V702.8H659.8ZM662.2 652.5H667.2V704.0H662.2ZM664.8 664.9H669.8V725.3H664.8ZM667.2 670.3H672.2V719.9H667.2ZM669.8 665.3H674.8V719.9H669.8ZM672.2 689.2H677.2V725.8H672.2ZM674.8 677.9H679.8V722.4H674.8ZM677.2 659.7H682.2V728.7H677.2ZM679.8 677.7H684.8V746.5H679.8ZM682.2 664.8H687.2V735.7H682.2ZM684.8 664.8H689.8V722.2H684.8ZM687.2 669.3H692.2V739.7H687.2ZM689.8 669.3H694.8V743.6H689.8ZM692.2 686.6H697.2V752.7H692.2ZM694.8 682.3H699.8V737.1H694.8ZM697.2 683.5H702.2V737.4H697.2ZM699.8 688.9H704.8V731.1H699.8ZM702.2 681.2H707.2V740.8H702.2ZM704.8 707.4H709.8V754.2H704.8ZM707.2 698.5H712.2V763.8H707.2ZM709.8 699.4H714.8V763.8H709.8ZM712.2 718.0H717.2V781.8H712.2ZM714.8 696.4H719.8V768.7H714.8ZM717.2 691.1H722.2V757.1H717.2ZM719.8 695.5H724.8V762.8H719.8ZM722.2 691.6H727.2V763.9H722.2ZM724.8 690.9H729.8V780.6H724.8ZM727.2 715.6H732.2V757.2H727.2ZM729.8 697.8H734.8V775.8H729.8ZM732.2 728.4H737.2V772.1H732.2ZM734.8 695.5H739.8V769.4H734.8ZM737.2 718.8H742.2V752.8H737.2ZM739.8 697.8H744.8V768.5H739.8ZM742.2 706.6H747.2V771.9H742.2ZM744.8 696.2H749.8V781.1H744.8ZM747.2 713.9H752.2V776.4H747.2ZM749.8 714.8H754.8V764.0H749.8ZM752.2 723.3H757.2V786.3H752.2ZM754.8 710.6H759.8V828.9H754.8ZM757.2 720.8H762.2V786.4H757.2ZM759.8 720.5H764.8V779.8H759.8ZM762.2 723.1H767.2V779.8H762.2ZM764.8 735.5H769.8V773.1H764.8ZM767.2 734.3H772.2V817.9H767.2ZM769.8 742.7H774.8V783.2H769.8ZM772.2 730.6H777.2V819.5H772.2ZM774.8 733.6H779.8V775.2H774.8ZM777.2 745.1H782.2V812.4H777.2ZM779.8 736.0H784.8V779.2H779.8ZM782.2 737.8H787.2V792.3H782.2ZM784.8 742.2H789.8V794.9H784.8ZM787.2 751.7H792.2V796.4H787.2ZM789.8 753.2H794.8V811.8H789.8ZM792.2 742.9H797.2V803.0H792.2ZM794.8 746.2H799.8V795.8H794.8ZM797.2 755.2H802.2V820.0H797.2ZM799.8 749.3H804.8V823.1H799.8ZM802.2 753.2H807.2V826.7H802.2ZM804.8 768.6H809.8V834.4H804.8ZM807.2 744.4H812.2V804.5H807.2ZM809.8 752.7H814.8V812.9H809.8ZM812.2 752.7H817.2V828.5H812.2ZM814.8 769.2H819.8V818.1H814.8ZM817.2 762.3H822.2V833.1H817.2ZM819.8 764.8H824.8V833.1H819.8ZM822.2 758.9H827.2V826.2H822.2ZM824.8 784.9H829.8V819.3H824.8ZM827.2 779.4H832.2V848.4H827.2ZM829.8 772.7H834.8V813.6H829.8ZM832.2 785.0H837.2V822.5H832.2ZM834.8 787.7H839.8V829.9H834.8ZM837.2 771.5H842.2V852.2H837.2ZM839.8 774.2H844.8V823.7H839.8ZM842.2 782.0H847.2V831.5H842.2ZM844.8 791.0H849.8V832.6H844.8ZM847.2 773.8H852.2V839.7H847.2ZM849.8 773.8H854.8V866.3H849.8ZM852.2 788.6H857.2V857.8H852.2ZM854.8 764.3H859.8V858.0H854.8ZM857.2 779.6H862.2V852.3H857.2ZM859.8 790.7H864.8V846.8H859.8ZM862.2 788.8H867.2V849.1H862.2ZM864.8 810.5H869.8V875.3H864.8ZM867.2 787.0H872.2V866.3H867.2ZM869.8 783.7H874.8V878.6H869.8ZM872.2 789.8H877.2V857.6H872.2ZM874.8 783.9H879.8V845.7H874.8ZM877.2 800.4H882.2V859.3H877.2ZM879.8 795.4H884.8V838.8H879.8ZM882.2 793.4H887.2V849.0H882.2ZM884.8 786.4H889.8V874.6H884.8ZM887.2 810.7H892.2V849.9H887.2ZM889.8 797.6H894.8V875.9H889.8ZM892.2 802.0H897.2V870.0H892.2ZM894.8 790.8H899.8V872.7H894.8ZM897.2 811.5H902.2V884.6H897.2ZM899.8 813.3H904.8V883.4H899.8ZM902.2 786.5H907.2V862.3H902.2ZM904.8 806.0H909.8V891.3H904.8ZM907.2 812.2H912.2V862.9H907.2ZM909.8 812.2H914.8V871.2H909.8ZM912.2 801.4H917.2V889.2H912.2ZM914.8 805.7H919.8V880.0H914.8ZM917.2 812.9H922.2V879.7H917.2ZM919.8 815.5H924.8V889.4H919.8ZM922.2 816.8H927.2V903.5H922.2ZM924.8 825.6H929.8V856.3H924.8ZM927.2 814.3H932.2V874.3H927.2ZM929.8 818.6H934.8V892.9H929.8ZM932.2 826.8H937.2V880.2H932.2ZM934.8 820.8H939.8V899.0H934.8ZM937.2 823.8H942.2V899.0H937.2ZM939.8 819.0H944.8V869.3H939.8ZM942.2 823.5H947.2V896.6H942.2ZM944.8 827.3H949.8V903.2H944.8ZM947.2 827.2H952.2V903.3H947.2ZM949.8 827.2H954.8V895.4H949.8ZM952.2 815.8H957.2V893.8H952.2ZM954.8 815.8H959.8V893.3H954.8ZM957.2 820.7H962.2V890.6H957.2ZM959.8 860.9H964.8V902.1H959.8ZM962.2 841.5H967.2V916.5H962.2ZM964.8 827.4H969.8V908.0H964.8ZM967.2 846.8H972.2V908.0H967.2ZM969.8 858.5H974.8V891.6H969.8ZM972.2 832.8H977.2V886.6H972.2ZM974.8 849.7H979.8V900.0H974.8ZM977.2 837.8H982.2V908.9H977.2ZM979.8 846.4H984.8V899.1H979.8ZM982.2 867.2H987.2V914.6H982.2ZM984.8 837.8H989.8V919.9H984.8ZM987.2 862.6H992.2V919.7H987.2ZM989.8 855.4H994.8V929.2H989.8ZM992.2 840.7H997.2V898.1H992.2ZM994.8 845.4H999.8V894.3H994.8ZM997.2 847.2H1002.2V907.5H997.2ZM999.8 847.2H1004.8V958.5H999.8ZM1002.2 846.8H1007.2V941.1H1002.2ZM1004.8 850.1H1009.8V922.2H1004.8ZM1007.2 849.4H1012.2V927.9H1007.2ZM1009.8 849.4H1014.8V926.8H1009.8ZM1012.2 865.4H1017.2V940.2H1012.2ZM1014.8 849.7H1019.8V920.1H1014.8ZM1017.2 850.1H1022.2V914.9H1017.2ZM1019.8 852.1H1024.8V914.9H1019.8ZM1022.2 835.8H1027.2V913.1H1022.2ZM1024.8 835.8H1029.8V914.6H1024.8ZM1027.2 878.0H1032.2V932.2H1027.2ZM1029.8 871.9H1034.8V947.3H1029.8ZM1032.2 868.3H1037.2V949.0H1032.2ZM1034.8 847.6H1039.8V931.6H1034.8ZM1037.2 852.8H1042.2V942.5H1037.2ZM1039.8 855.0H1044.8V958.2H1039.8ZM1042.2 848.3H1047.2V920.7H1042.2ZM1044.8 867.2H1049.8V950.8H1044.8ZM1047.2 857.4H1052.2V920.4H1047.2ZM1049.8 875.1H1054.8V933.9H1049.8ZM1052.2 893.9H1057.2V949.8H1052.2ZM1054.8 865.9H1059.8V959.2H1054.8ZM1057.2 872.3H1062.2V935.3H1057.2ZM1059.8 881.0H1064.8V953.9H1059.8ZM1062.2 889.0H1067.2V947.8H1062.2ZM1064.8 860.6H1069.8V942.1H1064.8ZM1067.2 907.9H1072.2V959.4H1067.2ZM1069.8 883.1H1074.8V959.4H1069.8ZM1072.2 889.3H1077.2V952.7H1072.2ZM1074.8 871.7H1079.8V967.1H1074.8ZM1077.2 878.9H1082.2V962.0H1077.2ZM1079.8 873.7H1084.8V963.6H1079.8ZM1082.2 864.7H1087.2V924.5H1082.2ZM1084.8 877.6H1089.8V1008.3H1084.8ZM1087.2 882.2H1092.2V997.6H1087.2ZM1089.8 916.0H1094.8V997.6H1089.8ZM1092.2 910.2H1097.2V959.9H1092.2ZM1094.8 878.3H1099.8V1007.1H1094.8ZM1097.2 906.3H1102.2V965.1H1097.2ZM1099.8 904.1H1104.8V963.0H1099.8ZM1102.2 884.3H1107.2V962.3H1102.2ZM1104.8 869.4H1109.8V973.7H1104.8ZM1107.2 885.2H1112.2V954.5H1107.2ZM1109.8 895.6H1114.8V967.5H1109.8ZM1112.2 910.1H1117.2V975.5H1112.2ZM1114.8 888.8H1119.8V1004.7H1114.8ZM1117.2 908.6H1122.2V983.0H1117.2ZM1119.8 901.8H1124.8V974.1H1119.8ZM1122.2 915.3H1127.2V979.7H1122.2ZM1124.8 904.3H1129.8V1035.0H1124.8ZM1127.2 895.2H1132.2V970.6H1127.2ZM1129.8 894.9H1134.8V967.9H1129.8ZM1132.2 889.8H1137.2V992.0H1132.2ZM1134.8 935.0H1139.8V994.6H1134.8ZM1137.2 892.0H1142.2V979.2H1137.2ZM1139.8 906.8H1144.8V994.2H1139.8ZM1142.2 898.1H1147.2V978.5H1142.2ZM1144.8 899.9H1149.8V1003.8H1144.8ZM1147.2 900.5H1152.2V998.4H1147.2ZM1149.8 886.8H1154.8V993.2H1149.8ZM1152.2 916.2H1157.2V1001.1H1152.2ZM1154.8 905.5H1159.8V1001.1H1154.8ZM1157.2 890.8H1162.2V983.0H1157.2ZM1159.8 925.7H1164.8V992.1H1159.8ZM1162.2 906.2H1167.2V979.7H1162.2ZM1164.8 944.0H1169.8V1019.7H1164.8ZM1167.2 922.0H1172.2V1012.7H1167.2ZM1169.8 922.0H1174.8V1024.0H1169.8ZM1172.2 932.9H1177.2V994.3H1172.2ZM1174.8 926.6H1179.8V1028.2H1174.8ZM1177.2 902.4H1182.2V1023.5H1177.2ZM1179.8 919.0H1184.8V1003.4H1179.8ZM1182.2 954.7H1187.2V1026.6H1182.2ZM1184.8 931.6H1189.8V1029.4H1184.8ZM1187.2 921.4H1192.2V1013.0H1187.2ZM1189.8 924.1H1194.8V1009.2H1189.8ZM1192.2 944.7H1197.2V1026.0H1192.2ZM1194.8 911.5H1199.8V1026.0H1194.8ZM1197.2 922.9H1202.2V1026.2H1197.2ZM1199.8 904.8H1204.8V1008.8H1199.8ZM1202.2 943.1H1207.2V989.9H1202.2ZM1204.8 923.2H1209.8V1037.1H1204.8ZM1207.2 937.0H1212.2V1037.1H1207.2ZM1209.8 924.8H1214.8V1017.7H1209.8ZM1212.2 939.6H1217.2V1017.7H1212.2ZM1214.8 909.3H1219.8V1020.5H1214.8ZM1217.2 952.9H1222.2V1024.7H1217.2ZM1219.8 918.6H1224.8V1023.6H1219.8ZM1222.2 918.6H1227.2V1011.0H1222.2ZM1224.8 910.6H1229.8V1013.2H1224.8ZM1227.2 910.6H1232.2V1025.2H1227.2ZM1229.8 927.2H1234.8V1021.2H1229.8ZM1232.2 942.5H1237.2V989.7H1232.2ZM1234.8 938.6H1239.8V1047.6H1234.8ZM1237.2 947.7H1242.2V1031.8H1237.2ZM1239.8 949.4H1244.8V1028.8H1239.8ZM1242.2 953.4H1247.2V1044.3H1242.2ZM1244.8 958.6H1249.8V1018.4H1244.8ZM1247.2 930.2H1252.2V1052.2H1247.2ZM1249.8 939.3H1254.8V1054.2H1249.8ZM1252.2 950.4H1257.2V1031.1H1252.2ZM1254.8 979.1H1259.8V1031.1H1254.8ZM1257.2 951.6H1262.2V1066.1H1257.2ZM1259.8 943.4H1264.8V1026.2H1259.8ZM1262.2 947.5H1267.2V1060.6H1262.2ZM1264.8 949.1H1269.8V1060.6H1264.8ZM1267.2 950.3H1272.2V1033.6H1267.2ZM1269.8 935.7H1274.8V1036.2H1269.8ZM1272.2 940.1H1277.2V1035.6H1272.2ZM1274.8 971.4H1279.8V1039.8H1274.8ZM1277.2 971.4H1282.2V1056.4H1277.2ZM1279.8 934.3H1284.8V1057.6H1279.8ZM1282.2 957.6H1287.2V1022.7H1282.2ZM1284.8 954.7H1289.8V1048.1H1284.8ZM1287.2 954.3H1292.2V1032.7H1287.2ZM1289.8 965.5H1294.8V1047.0H1289.8ZM1292.2 961.3H1297.2V1080.6H1292.2ZM1294.8 961.3H1299.8V1056.9H1294.8ZM1297.2 976.2H1302.2V1103.5H1297.2ZM1299.8 959.9H1304.8V1051.4H1299.8ZM1302.2 941.6H1307.2V1053.3H1302.2ZM1304.8 950.1H1309.8V1070.7H1304.8ZM1307.2 961.5H1312.2V1048.6H1307.2ZM1309.8 974.7H1314.8V1021.3H1309.8ZM1312.2 950.2H1317.2V1038.2H1312.2ZM1314.8 950.2H1319.8V1107.6H1314.8ZM1317.2 978.0H1322.2V1107.6H1317.2ZM1319.8 957.5H1324.8V1072.6H1319.8ZM1322.2 969.2H1327.2V1135.9H1322.2ZM1324.8 975.8H1329.8V1135.9H1324.8ZM1327.2 949.1H1332.2V1079.4H1327.2ZM1329.8 949.1H1334.8V1027.6H1329.8ZM1332.2 957.6H1337.2V1048.2H1332.2ZM1334.8 972.5H1339.8V1091.7H1334.8ZM1337.2 989.6H1342.2V1089.1H1337.2ZM1339.8 975.2H1344.8V1122.9H1339.8ZM1342.2 996.9H1347.2V1112.7H1342.2ZM1344.8 983.2H1349.8V1112.7H1344.8ZM1347.2 969.7H1352.2V1114.4H1347.2ZM1349.8 974.2H1354.8V1087.6H1349.8ZM1352.2 978.1H1357.2V1084.7H1352.2ZM1354.8 987.5H1359.8V1108.2H1354.8ZM1357.2 1001.3H1362.2V1063.5H1357.2ZM1359.8 970.9H1364.8V1076.7H1359.8ZM1362.2 967.5H1367.2V1099.7H1362.2ZM1364.8 972.8H1369.8V1073.9H1364.8ZM1367.2 973.1H1372.2V1086.7H1367.2ZM1369.8 992.0H1374.8V1078.1H1369.8ZM1372.2 975.2H1377.2V1049.1H1372.2ZM1374.8 970.0H1379.8V1054.0H1374.8ZM1377.2 977.3H1382.2V1100.9H1377.2ZM1379.8 997.5H1384.8V1162.7H1379.8ZM1382.2 969.0H1387.2V1024.4H1382.2ZM1384.8 969.0H1389.8V1093.9H1384.8ZM1387.2 982.0H1392.2V1065.8H1387.2ZM1389.8 983.8H1394.8V1144.5H1389.8ZM1392.2 981.7H1397.2V1068.5H1392.2ZM1394.8 985.6H1399.8V1068.5H1394.8ZM1397.2 972.7H1402.2V1134.1H1397.2ZM1399.8 988.3H1404.8V1110.0H1399.8ZM1402.2 981.4H1407.2V1106.4H1402.2ZM1404.8 1005.5H1409.8V1106.4H1404.8ZM1407.2 1005.5H1412.2V1087.3H1407.2ZM1409.8 1000.0H1414.8V1078.7H1409.8ZM1412.2 1000.0H1417.2V1112.5H1412.2ZM1414.8 994.2H1419.8V1058.0H1414.8ZM1417.2 987.3H1422.2V1125.0H1417.2ZM1419.8 993.2H1424.8V1076.4H1419.8ZM1422.2 991.5H1427.2V1125.2H1422.2ZM1424.8 992.5H1429.8V1110.4H1424.8ZM1427.2 1035.1H1432.2V1106.8H1427.2ZM1429.8 987.1H1434.8V1114.3H1429.8ZM1432.2 1022.9H1437.2V1092.4H1432.2ZM1434.8 991.3H1439.8V1109.2H1434.8ZM1437.2 979.4H1442.2V1094.1H1437.2ZM1439.8 977.8H1444.8V1085.7H1439.8ZM1442.2 1000.6H1447.2V1090.5H1442.2ZM1444.8 999.3H1449.8V1071.4H1444.8ZM1447.2 1022.0H1452.2V1091.5H1447.2ZM1449.8 992.8H1454.8V1137.4H1449.8ZM1452.2 993.9H1457.2V1099.0H1452.2ZM1454.8 996.6H1459.8V1121.8H1454.8ZM1457.2 998.2H1462.2V1102.2H1457.2ZM1459.8 986.6H1464.8V1083.1H1459.8ZM1462.2 987.3H1467.2V1112.2H1462.2ZM1464.8 1002.2H1469.8V1081.9H1464.8ZM1467.2 987.7H1472.2V1076.4H1467.2ZM1469.8 990.4H1474.8V1107.7H1469.8ZM1472.2 996.0H1477.2V1105.6H1472.2ZM1474.8 996.0H1479.8V1121.7H1474.8ZM1477.2 1017.0H1482.2V1132.3H1477.2ZM1479.8 1007.5H1484.8V1113.3H1479.8ZM1482.2 1037.6H1487.2V1126.5H1482.2ZM1484.8 999.0H1489.8V1094.8H1484.8ZM1487.2 1009.7H1492.2V1110.5H1487.2ZM1489.8 999.8H1494.8V1109.5H1489.8ZM1492.2 1037.4H1497.2V1102.0H1492.2ZM1494.8 1030.4H1499.8V1133.7H1494.8ZM1497.2 1033.6H1502.2V1114.5H1497.2ZM1499.8 999.9H1504.8V1084.3H1499.8ZM1502.2 988.9H1507.2V1115.5H1502.2ZM1504.8 1021.3H1509.8V1145.9H1504.8ZM1507.2 1037.0H1512.2V1130.6H1507.2ZM1509.8 1006.9H1514.8V1186.3H1509.8ZM1512.2 1006.9H1517.2V1129.7H1512.2ZM1514.8 1006.0H1519.8V1129.7H1514.8ZM1517.2 993.6H1522.2V1124.8H1517.2ZM1519.8 1020.6H1524.8V1149.5H1519.8ZM1522.2 1020.6H1527.2V1155.7H1522.2ZM1524.8 1004.9H1529.8V1129.3H1524.8ZM1527.2 997.3H1532.2V1104.7H1527.2ZM1529.8 1048.2H1534.8V1122.4H1529.8ZM1532.2 1036.1H1537.2V1123.9H1532.2ZM1534.8 1017.2H1539.8V1144.0H1534.8ZM1537.2 1014.5H1542.2V1167.3H1537.2ZM1539.8 1030.3H1544.8V1122.7H1539.8ZM1542.2 1011.1H1547.2V1110.3H1542.2ZM1544.8 1013.4H1549.8V1127.1H1544.8ZM1547.2 1048.0H1552.2V1136.9H1547.2ZM1549.8 1001.5H1554.8V1112.7H1549.8ZM1552.2 1002.7H1557.2V1130.8H1552.2ZM1554.8 1040.8H1559.8V1106.5H1554.8ZM1557.2 1025.9H1562.2V1174.3H1557.2ZM1559.8 1002.3H1564.8V1141.8H1559.8ZM1562.2 1002.3H1567.2V1149.6H1562.2ZM1564.8 1014.2H1569.8V1123.6H1564.8ZM1567.2 1035.3H1572.2V1144.6H1567.2ZM1569.8 1041.7H1574.8V1144.6H1569.8ZM1572.2 1002.2H1577.2V1102.5H1572.2ZM1574.8 1021.2H1579.8V1182.7H1574.8ZM1577.2 1021.9H1582.2V1170.2H1577.2ZM1579.8 1009.0H1584.8V1108.8H1579.8ZM1582.2 1007.5H1587.2V1132.9H1582.2ZM1584.8 1018.1H1589.8V1142.9H1584.8ZM1587.2 1053.0H1592.2V1151.8H1587.2ZM1589.8 1028.5H1594.8V1177.2H1589.8ZM1592.2 1028.9H1597.2V1157.5H1592.2ZM1594.8 1017.6H1599.8V1156.8H1594.8ZM1597.2 1017.6H1602.2V1152.8H1597.2ZM1599.8 1061.4H1604.8V1101.4H1599.8ZM1602.2 1045.0H1607.2V1147.3H1602.2ZM1604.8 1013.1H1609.8V1145.2H1604.8ZM1607.2 1022.0H1612.2V1132.1H1607.2ZM1609.8 1022.0H1614.8V1126.9H1609.8ZM1612.2 1020.3H1617.2V1151.3H1612.2ZM1614.8 1021.5H1619.8V1131.4H1614.8ZM1617.2 1032.3H1622.2V1146.6H1617.2ZM1619.8 1037.8H1624.8V1129.8H1619.8ZM1622.2 1090.0H1627.2V1147.7H1622.2ZM1624.8 1039.3H1629.8V1133.7H1624.8ZM1627.2 1055.3H1632.2V1156.9H1627.2ZM1629.8 1020.5H1634.8V1129.5H1629.8ZM1632.2 1027.3H1637.2V1152.5H1632.2ZM1634.8 1020.1H1639.8V1163.6H1634.8ZM1637.2 1071.5H1642.2V1164.3H1637.2ZM1639.8 1031.4H1644.8V1145.0H1639.8ZM1642.2 1048.9H1647.2V1138.6H1642.2ZM1644.8 1022.3H1649.8V1146.1H1644.8ZM1647.2 1030.3H1652.2V1134.6H1647.2ZM1649.8 1010.1H1654.8V1141.4H1649.8ZM1652.2 1084.4H1657.2V1161.2H1652.2ZM1654.8 1025.1H1659.8V1144.6H1654.8ZM1657.2 1010.6H1662.2V1123.3H1657.2ZM1659.8 1023.7H1664.8V1121.3H1659.8ZM1662.2 1047.1H1667.2V1144.3H1662.2ZM1664.8 1025.4H1669.8V1163.6H1664.8ZM1667.2 1057.3H1672.2V1139.1H1667.2ZM1669.8 1018.8H1674.8V1201.0H1669.8ZM1672.2 1043.0H1677.2V1175.4H1672.2ZM1674.8 1016.4H1679.8V1110.8H1674.8ZM1677.2 1016.4H1682.2V1191.3H1677.2ZM1679.8 1054.2H1684.8V1181.3H1679.8ZM1682.2 1046.5H1687.2V1176.9H1682.2ZM1684.8 1051.7H1689.8V1154.5H1684.8ZM1687.2 1081.2H1692.2V1126.2H1687.2ZM1689.8 1076.1H1694.8V1180.9H1689.8ZM1692.2 1062.1H1697.2V1146.6H1692.2ZM1694.8 1066.1H1699.8V1153.9H1694.8ZM1697.2 1033.0H1702.2V1137.9H1697.2ZM1699.8 1055.5H1704.8V1168.0H1699.8ZM1702.2 1040.4H1707.2V1128.2H1702.2ZM1704.8 1067.4H1709.8V1142.3H1704.8ZM1707.2 1028.7H1712.2V1119.3H1707.2ZM1709.8 1042.8H1714.8V1152.4H1709.8ZM1712.2 1061.6H1717.2V1157.1H1712.2ZM1714.8 1036.1H1719.8V1165.5H1714.8ZM1717.2 1066.3H1722.2V1140.4H1717.2ZM1719.8 1064.6H1724.8V1191.3H1719.8ZM1722.2 1029.2H1727.2V1174.5H1722.2ZM1724.8 1028.8H1729.8V1155.7H1724.8ZM1727.2 1056.9H1732.2V1165.8H1727.2ZM1729.8 1072.4H1734.8V1147.3H1729.8ZM1732.2 1067.7H1737.2V1190.8H1732.2ZM1734.8 1042.4H1739.8V1123.2H1734.8ZM1737.2 1023.2H1742.2V1143.3H1737.2ZM1739.8 1043.8H1744.8V1189.5H1739.8ZM1742.2 1046.3H1747.2V1182.4H1742.2ZM1744.8 1066.7H1749.8V1183.8H1744.8ZM1747.2 1058.8H1752.2V1163.1H1747.2ZM1749.8 1020.0H1754.8V1155.5H1749.8ZM1752.2 1037.5H1757.2V1181.2H1752.2ZM1754.8 1046.2H1759.8V1181.2H1754.8ZM1757.2 1066.6H1762.2V1220.2H1757.2ZM1759.8 1067.5H1764.8V1208.1H1759.8ZM1762.2 1077.8H1767.2V1208.1H1762.2ZM1764.8 1029.0H1769.8V1133.1H1764.8ZM1767.2 1054.3H1772.2V1180.8H1767.2ZM1769.8 1048.9H1774.8V1177.8H1769.8ZM1772.2 1047.3H1777.2V1175.4H1772.2ZM1774.8 1047.3H1779.8V1276.9H1774.8ZM1777.2 1095.0H1782.2V1249.9H1777.2ZM1779.8 1008.3H1784.8V1156.7H1779.8ZM1782.2 1051.4H1787.2V1162.5H1782.2ZM1784.8 1048.4H1789.8V1145.1H1784.8ZM1787.2 1043.8H1792.2V1168.1H1787.2ZM1789.8 1053.5H1794.8V1168.1H1789.8ZM1792.2 1053.5H1797.2V1195.2H1792.2ZM1794.8 1067.4H1799.8V1162.3H1794.8ZM1797.2 1059.6H1802.2V1144.3H1797.2ZM1799.8 1054.5H1804.8V1166.0H1799.8ZM1802.2 1046.4H1807.2V1198.7H1802.2ZM1804.8 1066.6H1809.8V1179.0H1804.8ZM1807.2 1052.2H1812.2V1162.0H1807.2ZM1809.8 1049.2H1814.8V1164.7H1809.8ZM1812.2 1066.4H1817.2V1218.7H1812.2ZM1814.8 1028.0H1819.8V1251.6H1814.8ZM1817.2 1051.4H1822.2V1172.6H1817.2ZM1819.8 1029.1H1824.8V1179.2H1819.8ZM1822.2 1062.1H1827.2V1206.6H1822.2ZM1824.8 1049.4H1829.8V1171.2H1824.8ZM1827.2 1083.5H1832.2V1199.1H1827.2ZM1829.8 1063.1H1834.8V1159.7H1829.8ZM1832.2 1098.7H1837.2V1189.5H1832.2ZM1834.8 1058.0H1839.8V1170.0H1834.8ZM1837.2 1057.5H1842.2V1172.5H1837.2ZM1839.8 1054.0H1844.8V1203.4H1839.8ZM1842.2 1102.9H1847.2V1196.5H1842.2ZM1844.8 1059.2H1849.8V1167.9H1844.8ZM1847.2 1041.4H1852.2V1177.8H1847.2ZM1849.8 1041.4H1854.8V1221.0H1849.8ZM1852.2 996.2H1857.2V1221.0H1852.2ZM1854.8 1063.8H1859.8V1178.3H1854.8ZM1857.2 1089.3H1862.2V1203.3H1857.2ZM1859.8 1062.8H1864.8V1181.2H1859.8ZM1862.2 1049.9H1867.2V1151.1H1862.2ZM1864.8 1049.9H1869.8V1185.4H1864.8ZM1867.2 1056.1H1872.2V1196.2H1867.2ZM1869.8 1026.2H1874.8V1206.1H1869.8ZM1872.2 1057.7H1877.2V1206.1H1872.2ZM1874.8 1080.1H1879.8V1222.9H1874.8ZM1877.2 1070.9H1882.2V1153.1H1877.2ZM1879.8 1083.6H1884.8V1240.0H1879.8ZM1882.2 1060.9H1887.2V1192.4H1882.2ZM1884.8 1054.3H1889.8V1163.3H1884.8ZM1887.2 1069.5H1892.2V1176.9H1887.2ZM1889.8 1078.6H1894.8V1202.6H1889.8ZM1892.2 1060.4H1897.2V1184.8H1892.2ZM1894.8 1066.3H1899.8V1228.5H1894.8ZM1897.2 1064.9H1902.2V1184.2H1897.2ZM1899.8 1084.2H1904.8V1184.2H1899.8ZM1902.2 1047.3H1907.2V1231.4H1902.2ZM1904.8 1103.4H1909.8V1175.9H1904.8ZM1907.2 1061.2H1912.2V1198.4H1907.2ZM1909.8 1075.3H1914.8V1199.9H1909.8ZM1912.2 1055.9H1917.2V1143.8H1912.2ZM1914.8 1114.0H1919.8V1240.2H1914.8ZM1917.2 1060.0H1922.2V1218.9H1917.2ZM1919.8 1091.7H1924.8V1218.9H1919.8ZM1922.2 1093.1H1927.2V1164.6H1922.2ZM1924.8 1079.1H1929.8V1204.3H1924.8ZM1927.2 1053.5H1932.2V1178.2H1927.2ZM1929.8 1057.4H1934.8V1194.5H1929.8ZM1932.2 1036.1H1937.2V1162.6H1932.2ZM1934.8 1079.8H1939.8V1196.0H1934.8ZM1937.2 1078.3H1942.2V1185.6H1937.2ZM1939.8 1103.1H1944.8V1222.1H1939.8ZM1942.2 1050.5H1947.2V1190.8H1942.2ZM1944.8 1095.3H1949.8V1200.8H1944.8ZM1947.2 1066.4H1952.2V1212.2H1947.2ZM1949.8 1057.2H1954.8V1183.8H1949.8ZM1952.2 1073.8H1957.2V1189.9H1952.2ZM1954.8 1063.1H1959.8V1197.8H1954.8ZM1957.2 1061.9H1962.2V1169.9H1957.2ZM1959.8 1097.5H1964.8V1185.5H1959.8ZM1962.2 1092.7H1967.2V1172.3H1962.2ZM1964.8 1061.7H1969.8V1204.7H1964.8ZM1967.2 1067.7H1972.2V1219.0H1967.2ZM1969.8 1053.2H1974.8V1176.5H1969.8ZM1972.2 1084.0H1977.2V1163.8H1972.2ZM1974.8 1099.3H1979.8V1206.8H1974.8ZM1977.2 1084.4H1982.2V1214.7H1977.2ZM1979.8 1068.4H1984.8V1221.9H1979.8ZM1982.2 1112.3H1987.2V1190.3H1982.2ZM1984.8 1086.4H1989.8V1190.3H1984.8ZM1987.2 1103.0H1992.2V1177.7H1987.2ZM1989.8 1089.2H1994.8V1182.8H1989.8Z" fill="#0000FF"/>
<path d="M273.5 196.1 L273.8 197.6 L274.0 199.0 L274.3 200.4 L274.6 201.8 L274.9 203.2 L275.1 204.5 L275.4 205.9 L275.7 207.3 L276.0 208.6 L276.2 210.0 L276.5 211.3 L276.8 212.6 L277.1 213.9 L277.3 215.2 L277.6 216.5 L277.9 217.8 L278.1 219.1 L278.4 220.3 L278.7 221.6 L279.0 222.9 L279.2 224.1 L279.5 225.3 L279.8 226.5 L280.1 227.8 L280.3 229.0 L280.6 230.2 L280.9 231.4 L281.2 232.5 L281.4 233.7 L281.7 234.9 L282.0 236.0 L282.2 237.2 L282.5 238.3 L282.8 239.4 L283.1 240.6 L283.3 241.7 L283.6 242.8 L283.9 243.9 L284.2 245.0 L284.4 246.1 L284.7 247.1 L285.0 248.2 L285.3 249.3 L285.5 250.3 L285.8 251.4 L286.1 252.4 L286.3 253.4 L286.6 254.5 L286.9 255.5 L287.2 256.5 L287.4 257.5 L287.7 258.5 L288.0 259.5 L288.3 260.5 L288.5 261.4 L288.8 262.4 L289.1 263.4 L289.4 264.3 L289.6 265.3 L289.9 266.2 L290.2 267.1 L290.4 268.1 L290.7 269.0 L291.0 269.9 L291.3 270.8 L291.5 271.7 L291.8 272.6 L292.1 273.5 L292.4 274.4 L292.6 275.3 L292.9 276.2 L293.2 277.0 L293.4 277.9 L293.7 278.7 L294.0 279.6 L294.3 280.4 L294.5 281.3 L294.8 282.1 L295.1 282.9 L295.4 283.8 L295.6 284.6 L295.9 285.4 L296.2 286.2 L296.5 287.0 L296.7 287.8 L297.0 288.6 L297.3 289.4 L297.5 290.2 L297.8 290.9 L298.1 291.7 L298.4 292.5 L298.6 293.2 L298.9 294.0 L299.2 294.7 L299.5 295.5 L299.7 296.2 L300.0 297.0 L300.3 297.7 L300.6 298.4 L300.8 299.2 L301.1 299.9 L301.4 300.6 L301.6 301.3 L301.9 302.0 L302.2 302.7 L302.5 303.4 L302.7 304.1 L303.0 304.8 L303.3 305.5 L303.6 306.2 L303.8 306.8 L304.1 307.5 L304.4 308.2 L304.7 308.8 L304.9 309.5 L305.2 310.2 L305.5 310.8 L305.7 311.5 L306.0 312.1 L310.2 321.7 L314.5 330.5 L318.7 338.6 L322.9 346.3 L327.1 353.5 L331.4 360.3 L335.6 366.8 L339.8 373.0 L344.0 379.0 L348.3 384.8 L352.5 390.4 L356.7 395.9 L360.9 401.2 L365.2 406.5 L369.4 411.7 L373.6 416.7 L377.8 421.8 L382.1 426.7 L386.3 431.6 L390.5 436.4 L394.7 441.2 L399.0 446.0 L403.2 450.7 L407.4 455.4 L411.6 460.0 L415.9 464.6 L420.1 469.1 L424.3 473.7 L428.5 478.2 L432.8 482.6 L437.0 487.0 L441.2 491.4 L445.4 495.8 L449.7 500.2 L453.9 504.5 L458.1 508.7 L462.3 513.0 L466.6 517.2 L470.8 521.4 L475.0 525.6 L479.2 529.7 L483.4 533.8 L487.7 537.9 L491.9 542.0 L496.1 546.0 L500.3 550.0 L504.6 554.0 L508.8 558.0 L513.0 561.9 L517.2 565.8 L521.5 569.7 L525.7 573.5 L529.9 577.3 L534.1 581.1 L538.4 584.9 L542.6 588.7 L546.8 592.4 L551.0 596.1 L555.3 599.8 L559.5 603.4 L563.7 607.1 L567.9 610.7 L572.2 614.3 L576.4 617.8 L580.6 621.4 L584.8 624.9 L589.1 628.4 L593.3 631.8 L597.5 635.3 L601.7 638.7 L606.0 642.1 L610.2 645.5 L614.4 648.9 L618.6 652.2 L622.9 655.5 L627.1 658.8 L631.3 662.1 L635.5 665.4 L639.8 668.6 L644.0 671.8 L648.2 675.0 L652.4 678.2 L656.7 681.3 L660.9 684.5 L665.1 687.6 L669.3 690.7 L673.6 693.8 L677.8 696.8 L682.0 699.9 L686.2 702.9 L690.5 705.9 L694.7 708.9 L698.9 711.8 L703.1 714.8 L707.3 717.7 L711.6 720.6 L715.8 723.5 L720.0 726.4 L724.2 729.3 L728.5 732.1 L732.7 734.9 L736.9 737.7 L741.1 740.5 L745.4 743.3 L749.6 746.1 L753.8 748.8 L758.0 751.5 L762.3 754.3 L766.5 757.0 L770.7 759.6 L774.9 762.3 L779.2 765.0 L783.4 767.6 L787.6 770.2 L791.8 772.8 L796.1 775.4 L800.3 778.0 L804.5 780.6 L808.7 783.1 L813.0 785.6 L817.2 788.2 L821.4 790.7 L825.6 793.1 L829.9 795.6 L834.1 798.1 L838.3 800.5 L842.5 803.0 L846.8 805.4 L851.0 807.8 L855.2 810.2 L859.4 812.6 L863.7 815.0 L867.9 817.3 L872.1 819.7 L876.3 822.0 L880.6 824.3 L884.8 826.6 L889.0 828.9 L893.2 831.2 L897.5 833.5 L901.7 835.7 L905.9 838.0 L910.1 840.2 L914.3 842.4 L918.6 844.6 L922.8 846.8 L927.0 849.0 L931.2 851.2 L935.5 853.4 L939.7 855.5 L943.9 857.7 L948.1 859.8 L952.4 861.9 L956.6 864.0 L960.8 866.1 L965.0 868.2 L969.3 870.3 L973.5 872.4 L977.7 874.4 L981.9 876.4 L986.2 878.5 L990.4 880.5 L994.6 882.5 L998.8 884.5 L1003.1 886.5 L1007.3 888.5 L1011.5 890.5 L1015.7 892.4 L1020.0 894.4 L1024.2 896.3 L1028.4 898.2 L1032.6 900.1 L1036.9 902.1 L1041.1 904.0 L1045.3 905.8 L1049.5 907.7 L1053.8 909.6 L1058.0 911.4 L1062.2 913.3 L1066.4 915.1 L1070.7 917.0 L1074.9 918.8 L1079.1 920.6 L1083.3 922.4 L1087.6 924.2 L1091.8 926.0 L1096.0 927.7 L1100.2 929.5 L1104.5 931.3 L1108.7 933.0 L1112.9 934.8 L1117.1 936.5 L1121.4 938.2 L1125.6 939.9 L1129.8 941.6 L1134.0 943.3 L1138.2 945.0 L1142.5 946.7 L1146.7 948.3 L1150.9 950.0 L1155.1 951.6 L1159.4 953.3 L1163.6 954.9 L1167.8 956.5 L1172.0 958.1 L1176.3 959.7 L1180.5 961.3 L1184.7 962.9 L1188.9 964.5 L1193.2 966.0 L1197.4 967.6 L1201.6 969.2 L1205.8 970.7 L1210.1 972.2 L1214.3 973.8 L1218.5 975.3 L1222.7 976.8 L1227.0 978.3 L1231.2 979.8 L1235.4 981.3 L1239.6 982.7 L1243.9 984.2 L1248.1 985.7 L1252.3 987.1 L1256.5 988.6 L1260.8 990.0 L1265.0 991.4 L1269.2 992.8 L1273.4 994.3 L1277.7 995.7 L1281.9 997.1 L1286.1 998.4 L1290.3 999.8 L1294.6 1001.2 L1298.8 1002.6 L1303.0 1003.9 L1307.2 1005.3 L1311.5 1006.6 L1315.7 1007.9 L1319.9 1009.3 L1324.1 1010.6 L1328.4 1011.9 L1332.6 1013.2 L1336.8 1014.5 L1341.0 1015.8 L1345.2 1017.0 L1349.5 1018.3 L1353.7 1019.6 L1357.9 1020.8 L1362.1 1022.1 L1366.4 1023.3 L1370.6 1024.5 L1374.8 1025.8 L1379.0 1027.0 L1383.3 1028.2 L1387.5 1029.4 L1391.7 1030.6 L1395.9 1031.8 L1400.2 1033.0 L1404.4 1034.2 L1408.6 1035.3 L1412.8 1036.5 L1417.1 1037.6 L1421.3 1038.8 L1425.5 1039.9 L1429.7 1041.0 L1434.0 1042.2 L1438.2 1043.3 L1442.4 1044.4 L1446.6 1045.5 L1450.9 1046.6 L1455.1 1047.7 L1459.3 1048.8 L1463.5 1049.8 L1467.8 1050.9 L1472.0 1052.0 L1476.2 1053.0 L1480.4 1054.1 L1484.7 1055.1 L1488.9 1056.2 L1493.1 1057.2 L1497.3 1058.2 L1501.6 1059.2 L1505.8 1060.2 L1510.0 1061.2 L1514.2 1062.2 L1518.5 1063.2 L1522.7 1064.2 L1526.9 1065.2 L1531.1 1066.1 L1535.4 1067.1 L1539.6 1068.1 L1543.8 1069.0 L1548.0 1070.0 L1552.3 1070.9 L1556.5 1071.8 L1560.7 1072.7 L1564.9 1073.7 L1569.1 1074.6 L1573.4 1075.5 L1577.6 1076.4 L1581.8 1077.3 L1586.0 1078.2 L1590.3 1079.0 L1594.5 1079.9 L1598.7 1080.8 L1602.9 1081.7 L1607.2 1082.5 L1611.4 1083.4 L1615.6 1084.2 L1619.8 1085.0 L1624.1 1085.9 L1628.3 1086.7 L1632.5 1087.5 L1636.7 1088.3 L1641.0 1089.2 L1645.2 1090.0 L1649.4 1090.8 L1653.6 1091.5 L1657.9 1092.3 L1662.1 1093.1 L1666.3 1093.9 L1670.5 1094.7 L1674.8 1095.4 L1679.0 1096.2 L1683.2 1096.9 L1687.4 1097.7 L1691.7 1098.4 L1695.9 1099.2 L1700.1 1099.9 L1704.3 1100.6 L1708.6 1101.4 L1712.8 1102.1 L1717.0 1102.8 L1721.2 1103.5 L1725.5 1104.2 L1729.7 1104.9 L1733.9 1105.6 L1738.1 1106.3 L1742.4 1106.9 L1746.6 1107.6 L1750.8 1108.3 L1755.0 1108.9 L1759.3 1109.6 L1763.5 1110.3 L1767.7 1110.9 L1771.9 1111.5 L1776.1 1112.2 L1780.4 1112.8 L1784.6 1113.5 L1788.8 1114.1 L1793.0 1114.7 L1797.3 1115.3 L1801.5 1115.9 L1805.7 1116.5 L1809.9 1117.1 L1814.2 1117.7 L1818.4 1118.3 L1822.6 1118.9 L1826.8 1119.5 L1831.1 1120.1 L1835.3 1120.6 L1839.5 1121.2 L1843.7 1121.8 L1848.0 1122.3 L1852.2 1122.9 L1856.4 1123.5 L1860.6 1124.0 L1864.9 1124.5 L1869.1 1125.1 L1873.3 1125.6 L1877.5 1126.2 L1881.8 1126.7 L1886.0 1127.2 L1890.2 1127.7 L1894.4 1128.2 L1898.7 1128.7 L1902.9 1129.2 L1907.1 1129.7 L1911.3 1130.2 L1915.6 1130.7 L1919.8 1131.2 L1924.0 1131.7 L1928.2 1132.2 L1932.5 1132.7 L1936.7 1133.2 L1940.9 1133.6 L1945.1 1134.1 L1949.4 1134.6 L1953.6 1135.0 L1957.8 1135.5 L1962.0 1135.9 L1966.3 1136.4 L1970.5 1136.8 L1974.7 1137.2 L1978.9 1137.7 L1983.2 1138.1 L1987.4 1138.5 L1991.6 1139.0" fill="none" stroke="#DD4650" stroke-width="5.5"/>
</g>
<g>
<line x1="247.5" y1="1077.0" x2="273.5" y2="1077.0" class="tk"/>
<line x1="247.5" y1="389.5" x2="273.5" y2="389.5" class="tk"/>
<line x1="260.5" y1="1436.5" x2="273.5" y2="1436.5" class="tk"/>
<line x1="260.5" y1="1350.6" x2="273.5" y2="1350.6" class="tk"/>
<line x1="260.5" y1="1284.0" x2="273.5" y2="1284.0" class="tk"/>
<line x1="260.5" y1="1229.5" x2="273.5" y2="1229.5" class="tk"/>
<line x1="260.5" y1="1183.5" x2="273.5" y2="1183.5" class="tk"/>
<line x1="260.5" y1="1143.6" x2="273.5" y2="1143.6" class="tk"/>
<line x1="260.5" y1="1108.5" x2="273.5" y2="1108.5" class="tk"/>
<line x1="260.5" y1="870.0" x2="273.5" y2="870.0" class="tk"/>
<line x1="260.5" y1="749.0" x2="273.5" y2="749.0" class="tk"/>
<line x1="260.5" y1="663.1" x2="273.5" y2="663.1" class="tk"/>
<line x1="260.5" y1="596.5" x2="273.5" y2="596.5" class="tk"/>
<line x1="260.5" y1="542.0" x2="273.5" y2="542.0" class="tk"/>
<line x1="260.5" y1="496.0" x2="273.5" y2="496.0" class="tk"/>
<line x1="260.5" y1="456.1" x2="273.5" y2="456.1" class="tk"/>
<line x1="260.5" y1="421.0" x2="273.5" y2="421.0" class="tk"/>
<line x1="260.5" y1="182.5" x2="273.5" y2="182.5" class="tk"/>
<line x1="273.5" y1="1541.5" x2="273.5" y2="1569.5" class="tk"/>
<line x1="695" y1="1541.5" x2="695" y2="1569.5" class="tk"/>
<line x1="1127.3" y1="1541.5" x2="1127.3" y2="1569.5" class="tk"/>
<line x1="1559.3" y1="1541.5" x2="1559.3" y2="1569.5" class="tk"/>
<line x1="1991.5" y1="1541.5" x2="1991.5" y2="1569.5" class="tk"/>
<line x1="479.0" y1="1541.5" x2="479.0" y2="1555.5" class="tk"/>
<line x1="911.2" y1="1541.5" x2="911.2" y2="1555.5" class="tk"/>
<line x1="1343.3" y1="1541.5" x2="1343.3" y2="1555.5" class="tk"/>
<line x1="1775.4" y1="1541.5" x2="1775.4" y2="1555.5" class="tk"/>
<line x1="273.5" y1="151" x2="273.5" y2="1544.0" class="tk"/>
<line x1="271.0" y1="1541.5" x2="1994" y2="1541.5" class="tk"/>
</g>
<text transform="translate(96.52 407.00) scale(0.9364 1)" font-size="62.5">1000</text>
<text transform="translate(130.16 1094.80) scale(0.9278 1)" font-size="62.5">100</text>
<text transform="translate(233.21 1633.90) scale(0.9439 1)" font-size="62.5">0.0</text>
<text transform="translate(653.26 1633.90) scale(0.9695 1)" font-size="62.5">0.5</text>
<text transform="translate(1086.40 1633.90) scale(0.9405 1)" font-size="62.5">1.0</text>
<text transform="translate(1518.65 1633.90) scale(0.9291 1)" font-size="62.5">1.5</text>
<text transform="translate(1947.54 1633.90) scale(0.9543 1)" font-size="62.5">2.0</text>
<text transform="translate(986.84 1744.40) scale(0.9789 1)" font-size="74.7">Time, µs</text>
<text transform="translate(108.80 1050.83) rotate(-90) scale(0.9763 1)" font-size="75">Intensity, a. u.</text>
<text transform="translate(1501.50 127.20) scale(0.9641 1)" font-size="75">AIS</text>
<text transform="translate(1501.50 222.20) scale(0.9642 1)" font-size="75">AIS/ZnS, 20 nm</text>
<text transform="translate(1501.50 311.80) scale(0.9608 1)" font-size="75">Approximation</text>
<g>
<line x1="1317" y1="101" x2="1486" y2="101" stroke="#000" stroke-width="5"/>
<line x1="1317" y1="198" x2="1486" y2="198" stroke="#0A0ACC" stroke-width="5.5"/>
<line x1="1317" y1="288" x2="1486" y2="288" stroke="#DD4650" stroke-width="6.5"/>
</g>
</svg>
</body></html>
